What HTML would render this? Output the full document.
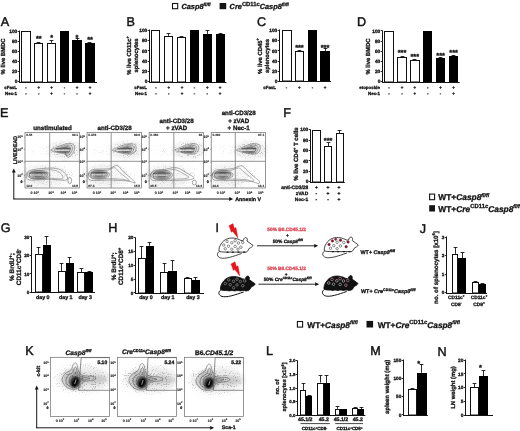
<!DOCTYPE html>
<html><head><meta charset="utf-8"><style>
html,body{margin:0;padding:0;background:#fff;width:520px;height:431px;overflow:hidden}
svg{display:block;font-family:'Liberation Sans', Arial, sans-serif;font-weight:bold;text-rendering:geometricPrecision}
text{stroke:#141414;stroke-width:.3px}
</style></head><body>
<svg width="520" height="431" viewBox="0 0 520 431">
<rect x="0" y="0" width="520" height="431" fill="#fff"/>
<rect x="172.50" y="3.50" width="5.20" height="5.20" fill="#fff" stroke="#141414" stroke-width="1.1"/>
<text x="181.4" y="8.9" font-size="7.4" font-style="italic" fill="#141414">Casp8<tspan font-size="4.6" dy="-3.1" font-style="italic">fl/fl</tspan></text>
<rect x="219.60" y="3.00" width="6.60" height="6.20" fill="#141414"/>
<text x="229.6" y="8.9" font-size="7.4" font-style="italic" fill="#141414">Cre<tspan font-size="5.8" dy="-3.3" font-style="normal">CD11c</tspan><tspan dy="3.3">Casp8</tspan><tspan font-size="4.6" dy="-3.1">fl/fl</tspan></text>
<text x="0.80" y="26.00" font-size="12.6" text-anchor="start" font-weight="normal" fill="#141414" style="stroke-width:0.45px">A</text>
<rect x="21.50" y="31.50" width="9.00" height="50.50" fill="#fff" stroke="#111" stroke-width="1.0"/>
<line x1="38.50" y1="43.12" x2="38.50" y2="42.50" stroke="#141414" stroke-width="0.9"/>
<line x1="36.60" y1="42.50" x2="40.40" y2="42.50" stroke="#141414" stroke-width="0.9"/>
<rect x="34.50" y="43.50" width="8.00" height="38.50" fill="#fff" stroke="#111" stroke-width="1.0"/>
<line x1="51.50" y1="42.87" x2="51.50" y2="40.50" stroke="#141414" stroke-width="0.9"/>
<line x1="49.60" y1="40.50" x2="53.40" y2="40.50" stroke="#141414" stroke-width="0.9"/>
<rect x="47.50" y="43.50" width="8.00" height="38.50" fill="#fff" stroke="#111" stroke-width="1.0"/>
<rect x="60.00" y="31.00" width="9.00" height="51.00" fill="#000"/>
<line x1="77.50" y1="40.29" x2="77.50" y2="38.50" stroke="#141414" stroke-width="0.9"/>
<line x1="75.60" y1="38.50" x2="79.40" y2="38.50" stroke="#141414" stroke-width="0.9"/>
<rect x="72.00" y="40.00" width="10.00" height="42.00" fill="#000"/>
<line x1="89.50" y1="43.22" x2="89.50" y2="42.50" stroke="#141414" stroke-width="0.9"/>
<line x1="87.60" y1="42.50" x2="91.40" y2="42.50" stroke="#141414" stroke-width="0.9"/>
<rect x="85.00" y="43.00" width="10.00" height="39.00" fill="#000"/>
<line x1="19.50" y1="30.50" x2="19.50" y2="83.00" stroke="#141414" stroke-width="1.0"/>
<line x1="19.00" y1="82.50" x2="97.00" y2="82.50" stroke="#141414" stroke-width="1.0"/>
<line x1="17.70" y1="81.50" x2="19.50" y2="81.50" stroke="#141414" stroke-width="0.9"/>
<text x="17.30" y="83.23" font-size="4.8" text-anchor="end" fill="#141414">0</text>
<line x1="17.70" y1="71.50" x2="19.50" y2="71.50" stroke="#141414" stroke-width="0.9"/>
<text x="17.30" y="73.13" font-size="4.8" text-anchor="end" fill="#141414">20</text>
<line x1="17.70" y1="61.50" x2="19.50" y2="61.50" stroke="#141414" stroke-width="0.9"/>
<text x="17.30" y="63.03" font-size="4.8" text-anchor="end" fill="#141414">40</text>
<line x1="17.70" y1="51.50" x2="19.50" y2="51.50" stroke="#141414" stroke-width="0.9"/>
<text x="17.30" y="52.93" font-size="4.8" text-anchor="end" fill="#141414">60</text>
<line x1="17.70" y1="41.50" x2="19.50" y2="41.50" stroke="#141414" stroke-width="0.9"/>
<text x="17.30" y="42.83" font-size="4.8" text-anchor="end" fill="#141414">80</text>
<line x1="17.70" y1="31.50" x2="19.50" y2="31.50" stroke="#141414" stroke-width="0.9"/>
<text x="17.30" y="32.73" font-size="4.8" text-anchor="end" fill="#141414">100</text>
<text x="5.40" y="56.50" font-size="5.9" text-anchor="middle" fill="#141414" transform="rotate(-90 5.40 56.50)">% live BMDC</text>
<text x="38.80" y="40.71" font-size="7.3" text-anchor="middle" fill="#141414">**</text>
<text x="51.60" y="40.31" font-size="7.3" text-anchor="middle" fill="#141414">*</text>
<text x="77.00" y="39.71" font-size="7.3" text-anchor="middle" fill="#141414">*</text>
<text x="90.00" y="42.41" font-size="7.3" text-anchor="middle" fill="#141414">**</text>
<text x="17.00" y="89.18" font-size="4.4" text-anchor="end" fill="#141414">sFasL</text>
<text x="26.00" y="89.18" font-size="4.4" text-anchor="middle" fill="#141414">-</text>
<text x="38.80" y="89.18" font-size="4.4" text-anchor="middle" fill="#141414">+</text>
<text x="51.60" y="89.18" font-size="4.4" text-anchor="middle" fill="#141414">+</text>
<text x="64.40" y="89.18" font-size="4.4" text-anchor="middle" fill="#141414">-</text>
<text x="77.00" y="89.18" font-size="4.4" text-anchor="middle" fill="#141414">+</text>
<text x="90.00" y="89.18" font-size="4.4" text-anchor="middle" fill="#141414">+</text>
<text x="17.00" y="95.38" font-size="4.4" text-anchor="end" fill="#141414">Nec-1</text>
<text x="26.00" y="95.38" font-size="4.4" text-anchor="middle" fill="#141414">-</text>
<text x="38.80" y="95.38" font-size="4.4" text-anchor="middle" fill="#141414">-</text>
<text x="51.60" y="95.38" font-size="4.4" text-anchor="middle" fill="#141414">+</text>
<text x="64.40" y="95.38" font-size="4.4" text-anchor="middle" fill="#141414">-</text>
<text x="77.00" y="95.38" font-size="4.4" text-anchor="middle" fill="#141414">-</text>
<text x="90.00" y="95.38" font-size="4.4" text-anchor="middle" fill="#141414">+</text>
<text x="126.40" y="25.50" font-size="12.6" text-anchor="start" font-weight="normal" fill="#141414" style="stroke-width:0.45px">B</text>
<rect x="151.50" y="30.50" width="8.00" height="51.50" fill="#fff" stroke="#111" stroke-width="1.0"/>
<line x1="168.50" y1="35.93" x2="168.50" y2="33.50" stroke="#141414" stroke-width="0.9"/>
<line x1="166.60" y1="33.50" x2="170.40" y2="33.50" stroke="#141414" stroke-width="0.9"/>
<rect x="164.50" y="36.50" width="8.00" height="45.50" fill="#fff" stroke="#111" stroke-width="1.0"/>
<line x1="181.50" y1="37.21" x2="181.50" y2="36.50" stroke="#141414" stroke-width="0.9"/>
<line x1="179.60" y1="36.50" x2="183.40" y2="36.50" stroke="#141414" stroke-width="0.9"/>
<rect x="177.50" y="37.50" width="8.00" height="44.50" fill="#fff" stroke="#111" stroke-width="1.0"/>
<rect x="190.00" y="30.00" width="9.00" height="52.00" fill="#000"/>
<line x1="207.50" y1="33.88" x2="207.50" y2="30.50" stroke="#141414" stroke-width="0.9"/>
<line x1="205.60" y1="30.50" x2="209.40" y2="30.50" stroke="#141414" stroke-width="0.9"/>
<rect x="203.00" y="34.00" width="9.00" height="48.00" fill="#000"/>
<line x1="220.50" y1="34.40" x2="220.50" y2="33.50" stroke="#141414" stroke-width="0.9"/>
<line x1="218.60" y1="33.50" x2="222.40" y2="33.50" stroke="#141414" stroke-width="0.9"/>
<rect x="216.00" y="34.00" width="9.00" height="48.00" fill="#000"/>
<line x1="149.50" y1="29.50" x2="149.50" y2="83.00" stroke="#141414" stroke-width="1.0"/>
<line x1="149.00" y1="82.50" x2="226.40" y2="82.50" stroke="#141414" stroke-width="1.0"/>
<line x1="147.70" y1="81.50" x2="149.50" y2="81.50" stroke="#141414" stroke-width="0.9"/>
<text x="147.30" y="83.23" font-size="4.8" text-anchor="end" fill="#141414">0</text>
<line x1="147.70" y1="71.50" x2="149.50" y2="71.50" stroke="#141414" stroke-width="0.9"/>
<text x="147.30" y="72.99" font-size="4.8" text-anchor="end" fill="#141414">20</text>
<line x1="147.70" y1="61.50" x2="149.50" y2="61.50" stroke="#141414" stroke-width="0.9"/>
<text x="147.30" y="62.75" font-size="4.8" text-anchor="end" fill="#141414">40</text>
<line x1="147.70" y1="50.50" x2="149.50" y2="50.50" stroke="#141414" stroke-width="0.9"/>
<text x="147.30" y="52.51" font-size="4.8" text-anchor="end" fill="#141414">60</text>
<line x1="147.70" y1="40.50" x2="149.50" y2="40.50" stroke="#141414" stroke-width="0.9"/>
<text x="147.30" y="42.27" font-size="4.8" text-anchor="end" fill="#141414">80</text>
<line x1="147.70" y1="30.50" x2="149.50" y2="30.50" stroke="#141414" stroke-width="0.9"/>
<text x="147.30" y="32.03" font-size="4.8" text-anchor="end" fill="#141414">100</text>
<text font-size="5.9" text-anchor="middle" fill="#141414" transform="rotate(-90 131.2 55.5)"><tspan x="131.2" y="55.5">% live CD11c<tspan font-size="4" dy="-2.4">+</tspan></tspan><tspan x="131.2" y="62.8">splenocytes</tspan></text>
<text x="147.00" y="88.88" font-size="4.4" text-anchor="end" fill="#141414">sFasL</text>
<text x="156.00" y="88.88" font-size="4.4" text-anchor="middle" fill="#141414">-</text>
<text x="168.80" y="88.88" font-size="4.4" text-anchor="middle" fill="#141414">+</text>
<text x="182.00" y="88.88" font-size="4.4" text-anchor="middle" fill="#141414">+</text>
<text x="194.40" y="88.88" font-size="4.4" text-anchor="middle" fill="#141414">-</text>
<text x="207.20" y="88.88" font-size="4.4" text-anchor="middle" fill="#141414">+</text>
<text x="220.10" y="88.88" font-size="4.4" text-anchor="middle" fill="#141414">+</text>
<text x="147.00" y="95.28" font-size="4.4" text-anchor="end" fill="#141414">Nec-1</text>
<text x="156.00" y="95.28" font-size="4.4" text-anchor="middle" fill="#141414">-</text>
<text x="168.80" y="95.28" font-size="4.4" text-anchor="middle" fill="#141414">-</text>
<text x="182.00" y="95.28" font-size="4.4" text-anchor="middle" fill="#141414">+</text>
<text x="194.40" y="95.28" font-size="4.4" text-anchor="middle" fill="#141414">-</text>
<text x="207.20" y="95.28" font-size="4.4" text-anchor="middle" fill="#141414">-</text>
<text x="220.10" y="95.28" font-size="4.4" text-anchor="middle" fill="#141414">+</text>
<text x="257.00" y="26.20" font-size="12.6" text-anchor="start" font-weight="normal" fill="#141414" style="stroke-width:0.45px">C</text>
<rect x="282.50" y="30.50" width="9.00" height="50.50" fill="#fff" stroke="#111" stroke-width="1.0"/>
<line x1="299.50" y1="51.37" x2="299.50" y2="50.50" stroke="#141414" stroke-width="0.9"/>
<line x1="297.60" y1="50.50" x2="301.40" y2="50.50" stroke="#141414" stroke-width="0.9"/>
<rect x="295.50" y="51.50" width="8.00" height="29.50" fill="#fff" stroke="#111" stroke-width="1.0"/>
<rect x="308.00" y="30.00" width="9.00" height="51.00" fill="#000"/>
<line x1="325.50" y1="51.37" x2="325.50" y2="48.50" stroke="#141414" stroke-width="0.9"/>
<line x1="323.60" y1="48.50" x2="327.40" y2="48.50" stroke="#141414" stroke-width="0.9"/>
<rect x="320.00" y="51.00" width="10.00" height="30.00" fill="#000"/>
<line x1="279.50" y1="29.50" x2="279.50" y2="82.00" stroke="#141414" stroke-width="1.0"/>
<line x1="279.00" y1="81.50" x2="331.00" y2="81.50" stroke="#141414" stroke-width="1.0"/>
<line x1="277.70" y1="81.50" x2="279.50" y2="81.50" stroke="#141414" stroke-width="0.9"/>
<text x="277.30" y="83.13" font-size="4.8" text-anchor="end" fill="#141414">0</text>
<line x1="277.70" y1="71.50" x2="279.50" y2="71.50" stroke="#141414" stroke-width="0.9"/>
<text x="277.30" y="72.95" font-size="4.8" text-anchor="end" fill="#141414">20</text>
<line x1="277.70" y1="61.50" x2="279.50" y2="61.50" stroke="#141414" stroke-width="0.9"/>
<text x="277.30" y="62.77" font-size="4.8" text-anchor="end" fill="#141414">40</text>
<line x1="277.70" y1="50.50" x2="279.50" y2="50.50" stroke="#141414" stroke-width="0.9"/>
<text x="277.30" y="52.59" font-size="4.8" text-anchor="end" fill="#141414">60</text>
<line x1="277.70" y1="40.50" x2="279.50" y2="40.50" stroke="#141414" stroke-width="0.9"/>
<text x="277.30" y="42.41" font-size="4.8" text-anchor="end" fill="#141414">80</text>
<line x1="277.70" y1="30.50" x2="279.50" y2="30.50" stroke="#141414" stroke-width="0.9"/>
<text x="277.30" y="32.23" font-size="4.8" text-anchor="end" fill="#141414">100</text>
<text font-size="5.9" text-anchor="middle" fill="#141414" transform="rotate(-90 261.8 56)"><tspan x="261.8" y="56">% live CD45<tspan font-size="4" dy="-2.4">+</tspan></tspan><tspan x="261.8" y="63.3">splenocytes</tspan></text>
<text x="299.40" y="50.41" font-size="7.3" text-anchor="middle" fill="#141414">***</text>
<text x="325.00" y="50.41" font-size="7.3" text-anchor="middle" fill="#141414">***</text>
<text x="276.00" y="88.78" font-size="4.4" text-anchor="end" fill="#141414">sFasL</text>
<text x="286.60" y="88.78" font-size="4.4" text-anchor="middle" fill="#141414">-</text>
<text x="299.40" y="88.78" font-size="4.4" text-anchor="middle" fill="#141414">+</text>
<text x="312.50" y="88.78" font-size="4.4" text-anchor="middle" fill="#141414">-</text>
<text x="325.00" y="88.78" font-size="4.4" text-anchor="middle" fill="#141414">+</text>
<text x="357.00" y="26.20" font-size="12.6" text-anchor="start" font-weight="normal" fill="#141414" style="stroke-width:0.45px">D</text>
<rect x="384.50" y="31.50" width="9.00" height="50.50" fill="#fff" stroke="#111" stroke-width="1.0"/>
<line x1="402.50" y1="56.76" x2="402.50" y2="56.50" stroke="#141414" stroke-width="0.9"/>
<line x1="400.60" y1="56.50" x2="404.40" y2="56.50" stroke="#141414" stroke-width="0.9"/>
<rect x="397.50" y="57.50" width="9.00" height="24.50" fill="#fff" stroke="#111" stroke-width="1.0"/>
<line x1="414.50" y1="60.05" x2="414.50" y2="59.50" stroke="#141414" stroke-width="0.9"/>
<line x1="412.60" y1="59.50" x2="416.40" y2="59.50" stroke="#141414" stroke-width="0.9"/>
<rect x="410.50" y="60.50" width="9.00" height="21.50" fill="#fff" stroke="#111" stroke-width="1.0"/>
<rect x="423.00" y="31.00" width="9.00" height="51.00" fill="#000"/>
<line x1="440.50" y1="58.02" x2="440.50" y2="57.50" stroke="#141414" stroke-width="0.9"/>
<line x1="438.60" y1="57.50" x2="442.40" y2="57.50" stroke="#141414" stroke-width="0.9"/>
<rect x="436.00" y="58.00" width="9.00" height="24.00" fill="#000"/>
<line x1="453.50" y1="55.74" x2="453.50" y2="55.50" stroke="#141414" stroke-width="0.9"/>
<line x1="451.60" y1="55.50" x2="455.40" y2="55.50" stroke="#141414" stroke-width="0.9"/>
<rect x="449.00" y="56.00" width="9.00" height="26.00" fill="#000"/>
<line x1="382.50" y1="30.50" x2="382.50" y2="83.00" stroke="#141414" stroke-width="1.0"/>
<line x1="382.00" y1="82.50" x2="459.70" y2="82.50" stroke="#141414" stroke-width="1.0"/>
<line x1="380.70" y1="81.50" x2="382.50" y2="81.50" stroke="#141414" stroke-width="0.9"/>
<text x="380.30" y="83.33" font-size="4.8" text-anchor="end" fill="#141414">0</text>
<line x1="380.70" y1="71.50" x2="382.50" y2="71.50" stroke="#141414" stroke-width="0.9"/>
<text x="380.30" y="73.19" font-size="4.8" text-anchor="end" fill="#141414">20</text>
<line x1="380.70" y1="61.50" x2="382.50" y2="61.50" stroke="#141414" stroke-width="0.9"/>
<text x="380.30" y="63.05" font-size="4.8" text-anchor="end" fill="#141414">40</text>
<line x1="380.70" y1="51.50" x2="382.50" y2="51.50" stroke="#141414" stroke-width="0.9"/>
<text x="380.30" y="52.91" font-size="4.8" text-anchor="end" fill="#141414">60</text>
<line x1="380.70" y1="41.50" x2="382.50" y2="41.50" stroke="#141414" stroke-width="0.9"/>
<text x="380.30" y="42.77" font-size="4.8" text-anchor="end" fill="#141414">80</text>
<line x1="380.70" y1="30.50" x2="382.50" y2="30.50" stroke="#141414" stroke-width="0.9"/>
<text x="380.30" y="32.63" font-size="4.8" text-anchor="end" fill="#141414">100</text>
<text x="369.60" y="56.50" font-size="5.9" text-anchor="middle" fill="#141414" transform="rotate(-90 369.60 56.50)">% live BMDC</text>
<text x="402.00" y="55.21" font-size="7.3" text-anchor="middle" fill="#141414">***</text>
<text x="414.80" y="59.01" font-size="7.3" text-anchor="middle" fill="#141414">***</text>
<text x="440.60" y="57.51" font-size="7.3" text-anchor="middle" fill="#141414">***</text>
<text x="453.60" y="55.11" font-size="7.3" text-anchor="middle" fill="#141414">***</text>
<text x="380.00" y="89.08" font-size="4.4" text-anchor="end" fill="#141414">etoposide</text>
<text x="389.00" y="89.08" font-size="4.4" text-anchor="middle" fill="#141414">-</text>
<text x="402.00" y="89.08" font-size="4.4" text-anchor="middle" fill="#141414">+</text>
<text x="414.80" y="89.08" font-size="4.4" text-anchor="middle" fill="#141414">+</text>
<text x="427.80" y="89.08" font-size="4.4" text-anchor="middle" fill="#141414">-</text>
<text x="440.60" y="89.08" font-size="4.4" text-anchor="middle" fill="#141414">+</text>
<text x="453.60" y="89.08" font-size="4.4" text-anchor="middle" fill="#141414">+</text>
<text x="380.00" y="95.28" font-size="4.4" text-anchor="end" fill="#141414">Nec-1</text>
<text x="389.00" y="95.28" font-size="4.4" text-anchor="middle" fill="#141414">-</text>
<text x="402.00" y="95.28" font-size="4.4" text-anchor="middle" fill="#141414">-</text>
<text x="414.80" y="95.28" font-size="4.4" text-anchor="middle" fill="#141414">+</text>
<text x="427.80" y="95.28" font-size="4.4" text-anchor="middle" fill="#141414">-</text>
<text x="440.60" y="95.28" font-size="4.4" text-anchor="middle" fill="#141414">-</text>
<text x="453.60" y="95.28" font-size="4.4" text-anchor="middle" fill="#141414">+</text>
<defs><filter id="bl1" x="-50%" y="-50%" width="200%" height="200%"><feGaussianBlur stdDeviation="1.2"/></filter><filter id="bl2" x="-50%" y="-50%" width="200%" height="200%"><feGaussianBlur stdDeviation="2.2"/></filter><filter id="bl05" x="-50%" y="-50%" width="200%" height="200%"><feGaussianBlur stdDeviation="0.5"/></filter><filter id="sp" x="0" y="0" width="520" height="431" filterUnits="userSpaceOnUse"><feGaussianBlur in="SourceGraphic" stdDeviation="2.5" result="b"/><feTurbulence type="fractalNoise" baseFrequency="0.9" numOctaves="1" seed="5" result="n"/><feColorMatrix in="n" type="matrix" values="0 0 0 0 0.4  0 0 0 0 0.4  0 0 0 0 0.4  10 0 0 0 -5.9" result="d"/><feComposite in="d" in2="b" operator="in"/></filter></defs>
<text x="0.10" y="116.90" font-size="12.6" text-anchor="start" font-weight="normal" fill="#141414" style="stroke-width:0.45px">E</text>
<text x="52.50" y="129.80" font-size="6.2" text-anchor="middle" fill="#141414">unstimulated</text>
<line x1="34.00" y1="150.2" x2="51.70" y2="150.2" stroke="#000" stroke-width="1.4" opacity="0.10" filter="url(#bl05)"/>
<g filter="url(#sp)"><line x1="31.00" y1="150.2" x2="52.70" y2="150.2" stroke="#000" stroke-width="4" opacity="0.6"/></g>
<ellipse cx="64.70" cy="150.00" rx="17" ry="9" fill="#000" opacity="0.06" filter="url(#bl2)"/>
<g filter="url(#sp)"><ellipse cx="65.70" cy="150.00" rx="15" ry="8.5" fill="#000" opacity="0.75"/></g>
<path d="M50.70,150.20 C50.70,149.57 53.03,148.78 54.70,148.00 C56.37,147.22 58.87,146.17 60.70,145.50 C62.53,144.83 64.20,144.35 65.70,144.00 C67.20,143.65 68.45,143.37 69.70,143.40 C70.95,143.43 72.37,143.60 73.20,144.20 C74.03,144.80 74.53,145.95 74.70,147.00 C74.87,148.05 74.53,149.42 74.20,150.50 C73.87,151.58 73.37,152.55 72.70,153.50 C72.03,154.45 71.00,155.57 70.20,156.20 C69.40,156.83 68.57,157.33 67.90,157.30 C67.23,157.27 66.65,156.55 66.20,156.00 C65.75,155.45 66.28,154.50 65.20,154.00 C64.12,153.50 61.45,153.37 59.70,153.00 C57.95,152.63 56.20,152.27 54.70,151.80 C53.20,151.33 50.70,150.83 50.70,150.20Z" fill="#000" fill-opacity="0.04" stroke="#3a3a3a" stroke-width="0.4"/>
<path d="M53.78,150.16 C53.78,149.66 55.60,149.05 56.90,148.44 C58.20,147.83 60.15,147.01 61.58,146.49 C63.01,145.97 64.31,145.59 65.48,145.32 C66.65,145.05 67.63,144.83 68.60,144.85 C69.58,144.88 70.68,145.01 71.33,145.48 C71.98,145.94 72.37,146.84 72.50,147.66 C72.63,148.48 72.37,149.54 72.11,150.39 C71.85,151.23 71.46,151.99 70.94,152.73 C70.42,153.47 69.61,154.34 68.99,154.84 C68.37,155.33 67.72,155.72 67.20,155.69 C66.68,155.67 66.22,155.11 65.87,154.68 C65.52,154.25 65.94,153.51 65.09,153.12 C64.25,152.73 62.17,152.63 60.80,152.34 C59.44,152.05 58.07,151.77 56.90,151.40 C55.73,151.04 53.78,150.65 53.78,150.16Z" fill="#000" fill-opacity="0.08" stroke="#3a3a3a" stroke-width="0.35"/>
<path d="M56.86,150.11 C56.86,149.76 58.17,149.32 59.10,148.88 C60.03,148.44 61.43,147.85 62.46,147.48 C63.49,147.11 64.42,146.84 65.26,146.64 C66.10,146.44 66.80,146.29 67.50,146.30 C68.20,146.32 68.99,146.42 69.46,146.75 C69.93,147.09 70.21,147.73 70.30,148.32 C70.39,148.91 70.21,149.67 70.02,150.28 C69.83,150.89 69.55,151.43 69.18,151.96 C68.81,152.49 68.23,153.12 67.78,153.47 C67.33,153.83 66.87,154.11 66.49,154.09 C66.12,154.07 65.79,153.67 65.54,153.36 C65.29,153.05 65.59,152.52 64.98,152.24 C64.37,151.96 62.88,151.89 61.90,151.68 C60.92,151.47 59.94,151.27 59.10,151.01 C58.26,150.75 56.86,150.47 56.86,150.11Z" fill="#000" fill-opacity="0.12" stroke="#3a3a3a" stroke-width="0.35"/>
<path d="M59.66,150.07 C59.66,149.84 60.50,149.56 61.10,149.28 C61.70,149.00 62.60,148.62 63.26,148.38 C63.92,148.14 64.52,147.97 65.06,147.84 C65.60,147.71 66.05,147.61 66.50,147.62 C66.95,147.64 67.46,147.70 67.76,147.91 C68.06,148.13 68.24,148.54 68.30,148.92 C68.36,149.30 68.24,149.79 68.12,150.18 C68.00,150.57 67.82,150.92 67.58,151.26 C67.34,151.60 66.97,152.00 66.68,152.23 C66.39,152.46 66.09,152.64 65.85,152.63 C65.61,152.62 65.40,152.36 65.24,152.16 C65.08,151.96 65.27,151.62 64.88,151.44 C64.49,151.26 63.53,151.21 62.90,151.08 C62.27,150.95 61.64,150.82 61.10,150.65 C60.56,150.48 59.66,150.30 59.66,150.07Z" fill="#000" fill-opacity="0.15" stroke="#3a3a3a" stroke-width="0.35"/>
<path d="M55.70,148.90 Q63.70,147.60 70.70,148.60" fill="none" stroke="#222" stroke-width="1.1" opacity="0.55"/>
<path d="M56.70,151.80 Q63.70,152.60 69.70,151.80" fill="none" stroke="#222" stroke-width="1.0" opacity="0.45"/>
<line x1="54.70" y1="150.3" x2="68.70" y2="150.3" stroke="#fff" stroke-width="0.9" opacity="0.8"/>
<ellipse cx="44.50" cy="175.80" rx="23.50" ry="10.60" fill="#000" opacity="0.06" filter="url(#bl2)"/>
<g filter="url(#sp)"><ellipse cx="48.50" cy="174.80" rx="25.50" ry="9.60" fill="#000" opacity="0.6"/></g>
<path d="M26.50,174.00 C26.83,172.50 27.92,171.37 30.00,170.50 C32.08,169.63 35.83,169.18 39.00,168.80 C42.17,168.42 46.33,168.28 49.00,168.20 C51.67,168.12 53.00,168.00 55.00,168.30 C57.00,168.60 59.17,168.97 61.00,170.00 C62.83,171.03 64.92,173.08 66.00,174.50 C67.08,175.92 67.58,177.55 67.50,178.50 C67.42,179.45 67.08,179.98 65.50,180.20 C63.92,180.42 60.75,179.95 58.00,179.80 C55.25,179.65 52.50,179.27 49.00,179.30 C45.50,179.33 40.50,179.97 37.00,180.00 C33.50,180.03 29.75,180.50 28.00,179.50 C26.25,178.50 26.17,175.50 26.50,174.00Z" fill="#fff" fill-opacity="0.5" stroke="#3a3a3a" stroke-width="0.42"/>
<path d="M29.38,174.20 C29.65,173.07 30.54,172.22 32.25,171.57 C33.96,170.92 37.03,170.59 39.63,170.30 C42.23,170.01 45.64,169.91 47.83,169.85 C50.02,169.79 51.11,169.70 52.75,169.93 C54.39,170.15 56.17,170.42 57.67,171.20 C59.17,171.97 60.88,173.51 61.77,174.57 C62.66,175.64 63.07,176.86 63.00,177.57 C62.93,178.29 62.66,178.69 61.36,178.85 C60.06,179.01 57.47,178.66 55.21,178.55 C52.95,178.44 50.70,178.15 47.83,178.18 C44.96,178.20 40.86,178.67 37.99,178.70 C35.12,178.72 32.05,179.07 30.61,178.32 C29.18,177.57 29.11,175.32 29.38,174.20Z" fill="none" stroke="#3a3a3a" stroke-width="0.38"/>
<ellipse cx="38.50" cy="174.80" rx="11.50" ry="4.60" fill="#000" fill-opacity="0.1" stroke="#3a3a3a" stroke-width="0.35"/>
<ellipse cx="38.50" cy="174.80" rx="9.20" ry="3.68" fill="#000" fill-opacity="0.12" stroke="#3a3a3a" stroke-width="0.35"/>
<ellipse cx="38.50" cy="174.80" rx="6.90" ry="2.76" fill="#000" fill-opacity="0.14" stroke="#3a3a3a" stroke-width="0.35"/>
<ellipse cx="38.50" cy="174.80" rx="4.60" ry="1.84" fill="#000" fill-opacity="0.16" stroke="#3a3a3a" stroke-width="0.35"/>
<path d="M29.30,173.20 Q38.50,172.00 47.70,173.00" fill="none" stroke="#222" stroke-width="1.1" opacity="0.5"/>
<line x1="29.88" y1="175.00" x2="45.40" y2="175.00" stroke="#fff" stroke-width="0.9" opacity="0.7"/>
<ellipse cx="69.70" cy="180.60" rx="1.8" ry="3.2" fill="none" stroke="#333" stroke-width="0.45"/>
<rect x="25.00" y="132.60" width="54.30" height="55.40" fill="none" stroke="#6a6a6a" stroke-width="0.7"/>
<line x1="49.70" y1="132.60" x2="49.70" y2="188.00" stroke="#777" stroke-width="0.8"/>
<line x1="25.00" y1="161.30" x2="79.30" y2="161.30" stroke="#777" stroke-width="0.8"/>
<text x="26.20" y="136.30" font-size="3.2" text-anchor="start" fill="#333" style="stroke-width:0.1px">0.45</text>
<text x="78.10" y="136.30" font-size="3.2" text-anchor="end" fill="#333" style="stroke-width:0.1px">92.1</text>
<text x="26.20" y="186.70" font-size="3.2" text-anchor="start" fill="#333" style="stroke-width:0.1px">12.9</text>
<text x="78.10" y="186.70" font-size="3.2" text-anchor="end" fill="#333" style="stroke-width:0.1px">10.5</text>
<text x="22.80" y="138.40" font-size="3.6" text-anchor="end" fill="#141414" style="stroke-width:0.12px">10<tspan font-size="2.6" dy="-1.3">5</tspan></text>
<line x1="23.80" y1="137.20" x2="25.00" y2="137.20" stroke="#555" stroke-width="0.5"/>
<text x="22.80" y="150.50" font-size="3.6" text-anchor="end" fill="#141414" style="stroke-width:0.12px">10<tspan font-size="2.6" dy="-1.3">4</tspan></text>
<line x1="23.80" y1="149.30" x2="25.00" y2="149.30" stroke="#555" stroke-width="0.5"/>
<text x="22.80" y="163.20" font-size="3.6" text-anchor="end" fill="#141414" style="stroke-width:0.12px">10<tspan font-size="2.6" dy="-1.3">3</tspan></text>
<line x1="23.80" y1="162.00" x2="25.00" y2="162.00" stroke="#555" stroke-width="0.5"/>
<text x="22.80" y="176.60" font-size="3.6" text-anchor="end" fill="#141414" style="stroke-width:0.12px">10<tspan font-size="2.6" dy="-1.3">2</tspan></text>
<line x1="23.80" y1="175.40" x2="25.00" y2="175.40" stroke="#555" stroke-width="0.5"/>
<text x="22.60" y="183.20" font-size="3.6" text-anchor="end" fill="#141414">0</text>
<line x1="23.80" y1="181.00" x2="25.00" y2="181.00" stroke="#555" stroke-width="0.5"/>
<text x="34.80" y="194.0" font-size="3.6" text-anchor="middle" fill="#141414" style="stroke-width:0.12px">0 10<tspan font-size="2.6" dy="-1.3">2</tspan></text>
<text x="51.00" y="194.0" font-size="3.6" text-anchor="middle" fill="#141414" style="stroke-width:0.12px">10<tspan font-size="2.6" dy="-1.3">3</tspan></text>
<text x="63.30" y="194.0" font-size="3.6" text-anchor="middle" fill="#141414" style="stroke-width:0.12px">10<tspan font-size="2.6" dy="-1.3">4</tspan></text>
<text x="74.60" y="194.0" font-size="3.6" text-anchor="middle" fill="#141414" style="stroke-width:0.12px">10<tspan font-size="2.6" dy="-1.3">5</tspan></text>
<text x="114.57" y="129.80" font-size="6.2" text-anchor="middle" fill="#141414">anti-CD3/28</text>
<line x1="96.07" y1="150.2" x2="113.17" y2="150.2" stroke="#000" stroke-width="1.4" opacity="0.10" filter="url(#bl05)"/>
<g filter="url(#sp)"><line x1="93.07" y1="150.2" x2="114.17" y2="150.2" stroke="#000" stroke-width="4" opacity="0.6"/></g>
<ellipse cx="126.17" cy="150.00" rx="17" ry="9" fill="#000" opacity="0.06" filter="url(#bl2)"/>
<g filter="url(#sp)"><ellipse cx="127.17" cy="150.00" rx="15" ry="8.5" fill="#000" opacity="0.75"/></g>
<path d="M112.17,150.20 C112.00,149.53 114.50,148.78 116.17,148.00 C117.84,147.22 120.34,146.17 122.17,145.50 C124.00,144.83 125.67,144.32 127.17,144.00 C128.67,143.68 129.92,143.52 131.17,143.60 C132.42,143.68 133.84,143.93 134.67,144.50 C135.50,145.07 136.00,146.00 136.17,147.00 C136.34,148.00 136.09,149.50 135.67,150.50 C135.25,151.50 134.75,152.37 133.67,153.00 C132.59,153.63 130.92,154.20 129.17,154.30 C127.42,154.40 125.17,153.98 123.17,153.60 C121.17,153.22 119.00,152.57 117.17,152.00 C115.34,151.43 112.34,150.87 112.17,150.20Z" fill="#000" fill-opacity="0.04" stroke="#3a3a3a" stroke-width="0.4"/>
<path d="M115.25,150.16 C115.12,149.64 117.07,149.05 118.37,148.44 C119.67,147.83 121.62,147.01 123.05,146.49 C124.48,145.97 125.78,145.57 126.95,145.32 C128.12,145.07 129.10,144.94 130.07,145.01 C131.05,145.07 132.15,145.27 132.80,145.71 C133.45,146.15 133.84,146.88 133.97,147.66 C134.10,148.44 133.91,149.61 133.58,150.39 C133.25,151.17 132.87,151.85 132.02,152.34 C131.18,152.83 129.88,153.28 128.51,153.35 C127.15,153.43 125.39,153.11 123.83,152.81 C122.27,152.51 120.58,152.00 119.15,151.56 C117.72,151.12 115.38,150.68 115.25,150.16Z" fill="#000" fill-opacity="0.08" stroke="#3a3a3a" stroke-width="0.35"/>
<path d="M118.33,150.11 C118.24,149.74 119.64,149.32 120.57,148.88 C121.50,148.44 122.90,147.85 123.93,147.48 C124.96,147.11 125.89,146.82 126.73,146.64 C127.57,146.46 128.27,146.37 128.97,146.42 C129.67,146.46 130.46,146.60 130.93,146.92 C131.40,147.24 131.68,147.76 131.77,148.32 C131.86,148.88 131.72,149.72 131.49,150.28 C131.26,150.84 130.98,151.33 130.37,151.68 C129.76,152.03 128.83,152.35 127.85,152.41 C126.87,152.46 125.61,152.23 124.49,152.02 C123.37,151.80 122.16,151.44 121.13,151.12 C120.10,150.80 118.42,150.49 118.33,150.11Z" fill="#000" fill-opacity="0.12" stroke="#3a3a3a" stroke-width="0.35"/>
<path d="M121.13,150.07 C121.07,149.83 121.97,149.56 122.57,149.28 C123.17,149.00 124.07,148.62 124.73,148.38 C125.39,148.14 125.99,147.95 126.53,147.84 C127.07,147.73 127.52,147.67 127.97,147.70 C128.42,147.73 128.93,147.82 129.23,148.02 C129.53,148.22 129.71,148.56 129.77,148.92 C129.83,149.28 129.74,149.82 129.59,150.18 C129.44,150.54 129.26,150.85 128.87,151.08 C128.48,151.31 127.88,151.51 127.25,151.55 C126.62,151.58 125.81,151.43 125.09,151.30 C124.37,151.16 123.59,150.92 122.93,150.72 C122.27,150.52 121.19,150.31 121.13,150.07Z" fill="#000" fill-opacity="0.15" stroke="#3a3a3a" stroke-width="0.35"/>
<path d="M117.17,148.90 Q125.17,147.60 132.17,148.60" fill="none" stroke="#222" stroke-width="1.1" opacity="0.55"/>
<path d="M118.17,151.80 Q125.17,152.60 131.17,151.80" fill="none" stroke="#222" stroke-width="1.0" opacity="0.45"/>
<line x1="116.17" y1="150.3" x2="130.17" y2="150.3" stroke="#fff" stroke-width="0.9" opacity="0.8"/>
<ellipse cx="105.07" cy="175.60" rx="22.50" ry="10.60" fill="#000" opacity="0.06" filter="url(#bl2)"/>
<g filter="url(#sp)"><ellipse cx="109.07" cy="174.60" rx="24.50" ry="9.60" fill="#000" opacity="0.6"/></g>
<path d="M88.57,173.50 C89.07,171.88 89.82,170.55 92.07,169.80 C94.32,169.05 99.24,169.17 102.07,169.00 C104.90,168.83 107.07,169.27 109.07,168.80 C111.07,168.33 112.57,166.70 114.07,166.20 C115.57,165.70 116.57,164.92 118.07,165.80 C119.57,166.68 121.07,169.55 123.07,171.50 C125.07,173.45 128.02,175.58 130.07,177.50 C132.12,179.42 135.54,182.38 135.37,183.00 C135.20,183.62 131.45,181.62 129.07,181.20 C126.69,180.78 124.07,180.70 121.07,180.50 C118.07,180.30 115.07,180.00 111.07,180.00 C107.07,180.00 100.74,180.58 97.07,180.50 C93.40,180.42 90.49,180.67 89.07,179.50 C87.65,178.33 88.07,175.12 88.57,173.50Z" fill="#fff" fill-opacity="0.5" stroke="#3a3a3a" stroke-width="0.42"/>
<path d="M91.18,173.78 C91.59,172.56 92.20,171.56 94.05,171.00 C95.89,170.44 99.93,170.53 102.25,170.40 C104.57,170.28 106.35,170.60 107.99,170.25 C109.63,169.90 110.86,168.67 112.09,168.30 C113.32,167.92 114.14,167.34 115.37,168.00 C116.60,168.66 117.83,170.81 119.47,172.28 C121.11,173.74 123.53,175.34 125.21,176.78 C126.89,178.21 129.69,180.44 129.56,180.90 C129.42,181.36 126.34,179.86 124.39,179.55 C122.44,179.24 120.29,179.18 117.83,179.03 C115.37,178.88 112.91,178.65 109.63,178.65 C106.35,178.65 101.16,179.09 98.15,179.03 C95.14,178.96 92.75,179.15 91.59,178.28 C90.43,177.40 90.77,174.99 91.18,173.78Z" fill="none" stroke="#3a3a3a" stroke-width="0.38"/>
<ellipse cx="99.07" cy="174.60" rx="10.50" ry="4.60" fill="#000" fill-opacity="0.1" stroke="#3a3a3a" stroke-width="0.35"/>
<ellipse cx="99.07" cy="174.60" rx="8.40" ry="3.68" fill="#000" fill-opacity="0.12" stroke="#3a3a3a" stroke-width="0.35"/>
<ellipse cx="99.07" cy="174.60" rx="6.30" ry="2.76" fill="#000" fill-opacity="0.14" stroke="#3a3a3a" stroke-width="0.35"/>
<ellipse cx="99.07" cy="174.60" rx="4.20" ry="1.84" fill="#000" fill-opacity="0.16" stroke="#3a3a3a" stroke-width="0.35"/>
<path d="M90.67,173.00 Q99.07,171.80 107.47,172.80" fill="none" stroke="#222" stroke-width="1.1" opacity="0.5"/>
<line x1="91.19" y1="174.80" x2="105.37" y2="174.80" stroke="#fff" stroke-width="0.9" opacity="0.7"/>
<rect x="87.07" y="132.60" width="54.30" height="55.40" fill="none" stroke="#6a6a6a" stroke-width="0.7"/>
<line x1="111.17" y1="132.60" x2="111.17" y2="188.00" stroke="#777" stroke-width="0.8"/>
<line x1="87.07" y1="161.30" x2="141.37" y2="161.30" stroke="#777" stroke-width="0.8"/>
<text x="88.27" y="136.30" font-size="3.2" text-anchor="start" fill="#333" style="stroke-width:0.1px">0.378</text>
<text x="140.17" y="136.30" font-size="3.2" text-anchor="end" fill="#333" style="stroke-width:0.1px">89.9</text>
<text x="88.27" y="186.70" font-size="3.2" text-anchor="start" fill="#333" style="stroke-width:0.1px">67.3</text>
<text x="140.17" y="186.70" font-size="3.2" text-anchor="end" fill="#333" style="stroke-width:0.1px">15.5</text>
<text x="84.87" y="138.40" font-size="3.6" text-anchor="end" fill="#141414" style="stroke-width:0.12px">10<tspan font-size="2.6" dy="-1.3">5</tspan></text>
<line x1="85.87" y1="137.20" x2="87.07" y2="137.20" stroke="#555" stroke-width="0.5"/>
<text x="84.87" y="150.50" font-size="3.6" text-anchor="end" fill="#141414" style="stroke-width:0.12px">10<tspan font-size="2.6" dy="-1.3">4</tspan></text>
<line x1="85.87" y1="149.30" x2="87.07" y2="149.30" stroke="#555" stroke-width="0.5"/>
<text x="84.87" y="163.20" font-size="3.6" text-anchor="end" fill="#141414" style="stroke-width:0.12px">10<tspan font-size="2.6" dy="-1.3">3</tspan></text>
<line x1="85.87" y1="162.00" x2="87.07" y2="162.00" stroke="#555" stroke-width="0.5"/>
<text x="84.87" y="176.60" font-size="3.6" text-anchor="end" fill="#141414" style="stroke-width:0.12px">10<tspan font-size="2.6" dy="-1.3">2</tspan></text>
<line x1="85.87" y1="175.40" x2="87.07" y2="175.40" stroke="#555" stroke-width="0.5"/>
<text x="84.67" y="183.20" font-size="3.6" text-anchor="end" fill="#141414">0</text>
<line x1="85.87" y1="181.00" x2="87.07" y2="181.00" stroke="#555" stroke-width="0.5"/>
<text x="96.87" y="194.0" font-size="3.6" text-anchor="middle" fill="#141414" style="stroke-width:0.12px">0 10<tspan font-size="2.6" dy="-1.3">2</tspan></text>
<text x="113.07" y="194.0" font-size="3.6" text-anchor="middle" fill="#141414" style="stroke-width:0.12px">10<tspan font-size="2.6" dy="-1.3">3</tspan></text>
<text x="125.37" y="194.0" font-size="3.6" text-anchor="middle" fill="#141414" style="stroke-width:0.12px">10<tspan font-size="2.6" dy="-1.3">4</tspan></text>
<text x="136.67" y="194.0" font-size="3.6" text-anchor="middle" fill="#141414" style="stroke-width:0.12px">10<tspan font-size="2.6" dy="-1.3">5</tspan></text>
<text x="176.64" y="122.50" font-size="6.2" text-anchor="middle" fill="#141414">anti-CD3/28</text>
<text x="176.64" y="129.80" font-size="6.2" text-anchor="middle" fill="#141414">+ zVAD</text>
<line x1="158.14" y1="150.2" x2="175.84" y2="150.2" stroke="#000" stroke-width="1.4" opacity="0.10" filter="url(#bl05)"/>
<g filter="url(#sp)"><line x1="155.14" y1="150.2" x2="176.84" y2="150.2" stroke="#000" stroke-width="4" opacity="0.6"/></g>
<ellipse cx="188.84" cy="150.00" rx="17" ry="9" fill="#000" opacity="0.06" filter="url(#bl2)"/>
<g filter="url(#sp)"><ellipse cx="189.84" cy="150.00" rx="15" ry="8.5" fill="#000" opacity="0.75"/></g>
<path d="M174.84,150.20 C174.67,149.53 177.17,148.78 178.84,148.00 C180.51,147.22 183.01,146.17 184.84,145.50 C186.67,144.83 188.34,144.32 189.84,144.00 C191.34,143.68 192.59,143.52 193.84,143.60 C195.09,143.68 196.51,143.93 197.34,144.50 C198.17,145.07 198.67,146.00 198.84,147.00 C199.01,148.00 198.76,149.50 198.34,150.50 C197.92,151.50 197.42,152.37 196.34,153.00 C195.26,153.63 193.59,154.20 191.84,154.30 C190.09,154.40 187.84,153.98 185.84,153.60 C183.84,153.22 181.67,152.57 179.84,152.00 C178.01,151.43 175.01,150.87 174.84,150.20Z" fill="#000" fill-opacity="0.04" stroke="#3a3a3a" stroke-width="0.4"/>
<path d="M177.92,150.16 C177.79,149.64 179.74,149.05 181.04,148.44 C182.34,147.83 184.29,147.01 185.72,146.49 C187.15,145.97 188.45,145.57 189.62,145.32 C190.79,145.07 191.76,144.94 192.74,145.01 C193.71,145.07 194.82,145.27 195.47,145.71 C196.12,146.15 196.51,146.88 196.64,147.66 C196.77,148.44 196.57,149.61 196.25,150.39 C195.92,151.17 195.53,151.85 194.69,152.34 C193.84,152.83 192.54,153.28 191.18,153.35 C189.81,153.43 188.06,153.11 186.50,152.81 C184.94,152.51 183.25,152.00 181.82,151.56 C180.39,151.12 178.05,150.68 177.92,150.16Z" fill="#000" fill-opacity="0.08" stroke="#3a3a3a" stroke-width="0.35"/>
<path d="M181.00,150.11 C180.91,149.74 182.31,149.32 183.24,148.88 C184.17,148.44 185.57,147.85 186.60,147.48 C187.63,147.11 188.56,146.82 189.40,146.64 C190.24,146.46 190.94,146.37 191.64,146.42 C192.34,146.46 193.13,146.60 193.60,146.92 C194.07,147.24 194.35,147.76 194.44,148.32 C194.53,148.88 194.39,149.72 194.16,150.28 C193.93,150.84 193.65,151.33 193.04,151.68 C192.43,152.03 191.50,152.35 190.52,152.41 C189.54,152.46 188.28,152.23 187.16,152.02 C186.04,151.80 184.83,151.44 183.80,151.12 C182.77,150.80 181.09,150.49 181.00,150.11Z" fill="#000" fill-opacity="0.12" stroke="#3a3a3a" stroke-width="0.35"/>
<path d="M183.80,150.07 C183.74,149.83 184.64,149.56 185.24,149.28 C185.84,149.00 186.74,148.62 187.40,148.38 C188.06,148.14 188.66,147.95 189.20,147.84 C189.74,147.73 190.19,147.67 190.64,147.70 C191.09,147.73 191.60,147.82 191.90,148.02 C192.20,148.22 192.38,148.56 192.44,148.92 C192.50,149.28 192.41,149.82 192.26,150.18 C192.11,150.54 191.93,150.85 191.54,151.08 C191.15,151.31 190.55,151.51 189.92,151.55 C189.29,151.58 188.48,151.43 187.76,151.30 C187.04,151.16 186.26,150.92 185.60,150.72 C184.94,150.52 183.86,150.31 183.80,150.07Z" fill="#000" fill-opacity="0.15" stroke="#3a3a3a" stroke-width="0.35"/>
<path d="M179.84,148.90 Q187.84,147.60 194.84,148.60" fill="none" stroke="#222" stroke-width="1.1" opacity="0.55"/>
<path d="M180.84,151.80 Q187.84,152.60 193.84,151.80" fill="none" stroke="#222" stroke-width="1.0" opacity="0.45"/>
<line x1="178.84" y1="150.3" x2="192.84" y2="150.3" stroke="#fff" stroke-width="0.9" opacity="0.8"/>
<ellipse cx="167.64" cy="176.00" rx="23.00" ry="11.00" fill="#000" opacity="0.06" filter="url(#bl2)"/>
<g filter="url(#sp)"><ellipse cx="171.64" cy="175.00" rx="25.00" ry="10.00" fill="#000" opacity="0.6"/></g>
<path d="M150.64,174.00 C151.14,172.58 151.89,171.25 154.14,170.50 C156.39,169.75 160.97,169.95 164.14,169.50 C167.31,169.05 170.64,167.97 173.14,167.80 C175.64,167.63 177.14,167.80 179.14,168.50 C181.14,169.20 183.14,170.83 185.14,172.00 C187.14,173.17 189.64,174.50 191.14,175.50 C192.64,176.50 194.47,177.28 194.14,178.00 C193.81,178.72 191.64,179.42 189.14,179.80 C186.64,180.18 182.81,180.18 179.14,180.30 C175.47,180.42 171.31,180.47 167.14,180.50 C162.97,180.53 156.81,180.75 154.14,180.50 C151.47,180.25 151.72,180.08 151.14,179.00 C150.56,177.92 150.14,175.42 150.64,174.00Z" fill="#fff" fill-opacity="0.5" stroke="#3a3a3a" stroke-width="0.42"/>
<path d="M153.34,174.25 C153.75,173.19 154.36,172.19 156.21,171.62 C158.05,171.06 161.81,171.21 164.41,170.88 C167.01,170.54 169.74,169.73 171.79,169.60 C173.84,169.48 175.07,169.60 176.71,170.12 C178.35,170.65 179.99,171.88 181.63,172.75 C183.27,173.62 185.32,174.62 186.55,175.38 C187.78,176.12 189.28,176.71 189.01,177.25 C188.74,177.79 186.96,178.31 184.91,178.60 C182.86,178.89 179.72,178.89 176.71,178.98 C173.70,179.06 170.29,179.10 166.87,179.12 C163.45,179.15 158.40,179.31 156.21,179.12 C154.02,178.94 154.23,178.81 153.75,178.00 C153.27,177.19 152.93,175.31 153.34,174.25Z" fill="none" stroke="#3a3a3a" stroke-width="0.38"/>
<ellipse cx="161.64" cy="175.00" rx="11.00" ry="5.00" fill="#000" fill-opacity="0.1" stroke="#3a3a3a" stroke-width="0.35"/>
<ellipse cx="161.64" cy="175.00" rx="8.80" ry="4.00" fill="#000" fill-opacity="0.12" stroke="#3a3a3a" stroke-width="0.35"/>
<ellipse cx="161.64" cy="175.00" rx="6.60" ry="3.00" fill="#000" fill-opacity="0.14" stroke="#3a3a3a" stroke-width="0.35"/>
<ellipse cx="161.64" cy="175.00" rx="4.40" ry="2.00" fill="#000" fill-opacity="0.16" stroke="#3a3a3a" stroke-width="0.35"/>
<path d="M152.84,173.40 Q161.64,172.20 170.44,173.20" fill="none" stroke="#222" stroke-width="1.1" opacity="0.5"/>
<line x1="153.39" y1="175.20" x2="168.24" y2="175.20" stroke="#fff" stroke-width="0.9" opacity="0.7"/>
<ellipse cx="194.34" cy="182.60" rx="2.0" ry="2.4" fill="none" stroke="#333" stroke-width="0.45"/>
<rect x="149.14" y="132.60" width="54.30" height="55.40" fill="none" stroke="#6a6a6a" stroke-width="0.7"/>
<line x1="173.84" y1="132.60" x2="173.84" y2="188.00" stroke="#777" stroke-width="0.8"/>
<line x1="149.14" y1="161.30" x2="203.44" y2="161.30" stroke="#777" stroke-width="0.8"/>
<text x="150.34" y="136.30" font-size="3.2" text-anchor="start" fill="#333" style="stroke-width:0.1px">0.460</text>
<text x="202.24" y="136.30" font-size="3.2" text-anchor="end" fill="#333" style="stroke-width:0.1px">86</text>
<text x="150.34" y="186.70" font-size="3.2" text-anchor="start" fill="#333" style="stroke-width:0.1px">35.5</text>
<text x="202.24" y="186.70" font-size="3.2" text-anchor="end" fill="#333" style="stroke-width:0.1px">13.6</text>
<text x="146.94" y="138.40" font-size="3.6" text-anchor="end" fill="#141414" style="stroke-width:0.12px">10<tspan font-size="2.6" dy="-1.3">5</tspan></text>
<line x1="147.94" y1="137.20" x2="149.14" y2="137.20" stroke="#555" stroke-width="0.5"/>
<text x="146.94" y="150.50" font-size="3.6" text-anchor="end" fill="#141414" style="stroke-width:0.12px">10<tspan font-size="2.6" dy="-1.3">4</tspan></text>
<line x1="147.94" y1="149.30" x2="149.14" y2="149.30" stroke="#555" stroke-width="0.5"/>
<text x="146.94" y="163.20" font-size="3.6" text-anchor="end" fill="#141414" style="stroke-width:0.12px">10<tspan font-size="2.6" dy="-1.3">3</tspan></text>
<line x1="147.94" y1="162.00" x2="149.14" y2="162.00" stroke="#555" stroke-width="0.5"/>
<text x="146.94" y="176.60" font-size="3.6" text-anchor="end" fill="#141414" style="stroke-width:0.12px">10<tspan font-size="2.6" dy="-1.3">2</tspan></text>
<line x1="147.94" y1="175.40" x2="149.14" y2="175.40" stroke="#555" stroke-width="0.5"/>
<text x="146.74" y="183.20" font-size="3.6" text-anchor="end" fill="#141414">0</text>
<line x1="147.94" y1="181.00" x2="149.14" y2="181.00" stroke="#555" stroke-width="0.5"/>
<text x="158.94" y="194.0" font-size="3.6" text-anchor="middle" fill="#141414" style="stroke-width:0.12px">0 10<tspan font-size="2.6" dy="-1.3">2</tspan></text>
<text x="175.14" y="194.0" font-size="3.6" text-anchor="middle" fill="#141414" style="stroke-width:0.12px">10<tspan font-size="2.6" dy="-1.3">3</tspan></text>
<text x="187.44" y="194.0" font-size="3.6" text-anchor="middle" fill="#141414" style="stroke-width:0.12px">10<tspan font-size="2.6" dy="-1.3">4</tspan></text>
<text x="198.74" y="194.0" font-size="3.6" text-anchor="middle" fill="#141414" style="stroke-width:0.12px">10<tspan font-size="2.6" dy="-1.3">5</tspan></text>
<text x="238.71" y="115.20" font-size="6.2" text-anchor="middle" fill="#141414">anti-CD3/28</text>
<text x="238.71" y="122.50" font-size="6.2" text-anchor="middle" fill="#141414">+ zVAD</text>
<text x="238.71" y="129.80" font-size="6.2" text-anchor="middle" fill="#141414">+ Nec-1</text>
<line x1="220.21" y1="150.2" x2="237.31" y2="150.2" stroke="#000" stroke-width="1.4" opacity="0.10" filter="url(#bl05)"/>
<g filter="url(#sp)"><line x1="217.21" y1="150.2" x2="238.31" y2="150.2" stroke="#000" stroke-width="4" opacity="0.6"/></g>
<ellipse cx="250.31" cy="150.00" rx="17" ry="9" fill="#000" opacity="0.06" filter="url(#bl2)"/>
<g filter="url(#sp)"><ellipse cx="251.31" cy="150.00" rx="15" ry="8.5" fill="#000" opacity="0.75"/></g>
<path d="M236.31,150.20 C236.14,149.53 238.64,148.78 240.31,148.00 C241.98,147.22 244.48,146.17 246.31,145.50 C248.14,144.83 249.81,144.32 251.31,144.00 C252.81,143.68 254.06,143.52 255.31,143.60 C256.56,143.68 257.98,143.93 258.81,144.50 C259.64,145.07 260.14,146.00 260.31,147.00 C260.48,148.00 260.23,149.50 259.81,150.50 C259.39,151.50 258.89,152.37 257.81,153.00 C256.73,153.63 255.06,154.20 253.31,154.30 C251.56,154.40 249.31,153.98 247.31,153.60 C245.31,153.22 243.14,152.57 241.31,152.00 C239.48,151.43 236.48,150.87 236.31,150.20Z" fill="#000" fill-opacity="0.04" stroke="#3a3a3a" stroke-width="0.4"/>
<path d="M239.39,150.16 C239.26,149.64 241.21,149.05 242.51,148.44 C243.81,147.83 245.76,147.01 247.19,146.49 C248.62,145.97 249.92,145.57 251.09,145.32 C252.26,145.07 253.24,144.94 254.21,145.01 C255.19,145.07 256.29,145.27 256.94,145.71 C257.59,146.15 257.98,146.88 258.11,147.66 C258.24,148.44 258.05,149.61 257.72,150.39 C257.40,151.17 257.01,151.85 256.16,152.34 C255.32,152.83 254.02,153.28 252.65,153.35 C251.28,153.43 249.53,153.11 247.97,152.81 C246.41,152.51 244.72,152.00 243.29,151.56 C241.86,151.12 239.52,150.68 239.39,150.16Z" fill="#000" fill-opacity="0.08" stroke="#3a3a3a" stroke-width="0.35"/>
<path d="M242.47,150.11 C242.38,149.74 243.78,149.32 244.71,148.88 C245.64,148.44 247.04,147.85 248.07,147.48 C249.10,147.11 250.03,146.82 250.87,146.64 C251.71,146.46 252.41,146.37 253.11,146.42 C253.81,146.46 254.60,146.60 255.07,146.92 C255.54,147.24 255.82,147.76 255.91,148.32 C256.00,148.88 255.86,149.72 255.63,150.28 C255.40,150.84 255.12,151.33 254.51,151.68 C253.90,152.03 252.97,152.35 251.99,152.41 C251.01,152.46 249.75,152.23 248.63,152.02 C247.51,151.80 246.30,151.44 245.27,151.12 C244.24,150.80 242.56,150.49 242.47,150.11Z" fill="#000" fill-opacity="0.12" stroke="#3a3a3a" stroke-width="0.35"/>
<path d="M245.27,150.07 C245.21,149.83 246.11,149.56 246.71,149.28 C247.31,149.00 248.21,148.62 248.87,148.38 C249.53,148.14 250.13,147.95 250.67,147.84 C251.21,147.73 251.66,147.67 252.11,147.70 C252.56,147.73 253.07,147.82 253.37,148.02 C253.67,148.22 253.85,148.56 253.91,148.92 C253.97,149.28 253.88,149.82 253.73,150.18 C253.58,150.54 253.40,150.85 253.01,151.08 C252.62,151.31 252.02,151.51 251.39,151.55 C250.76,151.58 249.95,151.43 249.23,151.30 C248.51,151.16 247.73,150.92 247.07,150.72 C246.41,150.52 245.33,150.31 245.27,150.07Z" fill="#000" fill-opacity="0.15" stroke="#3a3a3a" stroke-width="0.35"/>
<path d="M241.31,148.90 Q249.31,147.60 256.31,148.60" fill="none" stroke="#222" stroke-width="1.1" opacity="0.55"/>
<path d="M242.31,151.80 Q249.31,152.60 255.31,151.80" fill="none" stroke="#222" stroke-width="1.0" opacity="0.45"/>
<line x1="240.31" y1="150.3" x2="254.31" y2="150.3" stroke="#fff" stroke-width="0.9" opacity="0.8"/>
<ellipse cx="228.71" cy="175.80" rx="22.50" ry="10.60" fill="#000" opacity="0.06" filter="url(#bl2)"/>
<g filter="url(#sp)"><ellipse cx="232.71" cy="174.80" rx="24.50" ry="9.60" fill="#000" opacity="0.6"/></g>
<path d="M212.71,173.50 C213.21,171.92 213.96,170.72 216.21,170.00 C218.46,169.28 223.38,169.45 226.21,169.20 C229.04,168.95 231.21,168.95 233.21,168.50 C235.21,168.05 236.71,166.92 238.21,166.50 C239.71,166.08 240.71,165.33 242.21,166.00 C243.71,166.67 245.38,168.83 247.21,170.50 C249.04,172.17 251.29,174.33 253.21,176.00 C255.13,177.67 257.79,179.25 258.71,180.50 C259.63,181.75 259.96,183.33 258.71,183.50 C257.46,183.67 254.46,181.98 251.21,181.50 C247.96,181.02 243.88,180.77 239.21,180.60 C234.54,180.43 227.54,180.68 223.21,180.50 C218.88,180.32 214.96,180.67 213.21,179.50 C211.46,178.33 212.21,175.08 212.71,173.50Z" fill="#fff" fill-opacity="0.5" stroke="#3a3a3a" stroke-width="0.42"/>
<path d="M215.23,173.82 C215.64,172.64 216.26,171.74 218.10,171.20 C219.95,170.66 223.98,170.79 226.30,170.60 C228.62,170.41 230.40,170.41 232.04,170.07 C233.68,169.74 234.91,168.89 236.14,168.57 C237.37,168.26 238.19,167.70 239.42,168.20 C240.65,168.70 242.02,170.32 243.52,171.57 C245.02,172.82 246.87,174.45 248.44,175.70 C250.01,176.95 252.20,178.14 252.95,179.07 C253.70,180.01 253.98,181.20 252.95,181.32 C251.93,181.45 249.47,180.19 246.80,179.82 C244.13,179.46 240.79,179.28 236.96,179.15 C233.13,179.03 227.39,179.21 223.84,179.07 C220.29,178.94 217.08,179.20 215.64,178.32 C214.21,177.45 214.82,175.01 215.23,173.82Z" fill="none" stroke="#3a3a3a" stroke-width="0.38"/>
<ellipse cx="222.71" cy="174.80" rx="10.50" ry="4.60" fill="#000" fill-opacity="0.1" stroke="#3a3a3a" stroke-width="0.35"/>
<ellipse cx="222.71" cy="174.80" rx="8.40" ry="3.68" fill="#000" fill-opacity="0.12" stroke="#3a3a3a" stroke-width="0.35"/>
<ellipse cx="222.71" cy="174.80" rx="6.30" ry="2.76" fill="#000" fill-opacity="0.14" stroke="#3a3a3a" stroke-width="0.35"/>
<ellipse cx="222.71" cy="174.80" rx="4.20" ry="1.84" fill="#000" fill-opacity="0.16" stroke="#3a3a3a" stroke-width="0.35"/>
<path d="M214.31,173.20 Q222.71,172.00 231.11,173.00" fill="none" stroke="#222" stroke-width="1.1" opacity="0.5"/>
<line x1="214.84" y1="175.00" x2="229.01" y2="175.00" stroke="#fff" stroke-width="0.9" opacity="0.7"/>
<rect x="211.21" y="132.60" width="54.30" height="55.40" fill="none" stroke="#6a6a6a" stroke-width="0.7"/>
<line x1="235.31" y1="132.60" x2="235.31" y2="188.00" stroke="#777" stroke-width="0.8"/>
<line x1="211.21" y1="161.30" x2="265.51" y2="161.30" stroke="#777" stroke-width="0.8"/>
<text x="212.41" y="136.30" font-size="3.2" text-anchor="start" fill="#333" style="stroke-width:0.1px">0.460</text>
<text x="264.31" y="136.30" font-size="3.2" text-anchor="end" fill="#333" style="stroke-width:0.1px">87.1</text>
<text x="212.41" y="186.70" font-size="3.2" text-anchor="start" fill="#333" style="stroke-width:0.1px">33.8</text>
<text x="264.31" y="186.70" font-size="3.2" text-anchor="end" fill="#333" style="stroke-width:0.1px">18.1</text>
<text x="209.01" y="138.40" font-size="3.6" text-anchor="end" fill="#141414" style="stroke-width:0.12px">10<tspan font-size="2.6" dy="-1.3">5</tspan></text>
<line x1="210.01" y1="137.20" x2="211.21" y2="137.20" stroke="#555" stroke-width="0.5"/>
<text x="209.01" y="150.50" font-size="3.6" text-anchor="end" fill="#141414" style="stroke-width:0.12px">10<tspan font-size="2.6" dy="-1.3">4</tspan></text>
<line x1="210.01" y1="149.30" x2="211.21" y2="149.30" stroke="#555" stroke-width="0.5"/>
<text x="209.01" y="163.20" font-size="3.6" text-anchor="end" fill="#141414" style="stroke-width:0.12px">10<tspan font-size="2.6" dy="-1.3">3</tspan></text>
<line x1="210.01" y1="162.00" x2="211.21" y2="162.00" stroke="#555" stroke-width="0.5"/>
<text x="209.01" y="176.60" font-size="3.6" text-anchor="end" fill="#141414" style="stroke-width:0.12px">10<tspan font-size="2.6" dy="-1.3">2</tspan></text>
<line x1="210.01" y1="175.40" x2="211.21" y2="175.40" stroke="#555" stroke-width="0.5"/>
<text x="208.81" y="183.20" font-size="3.6" text-anchor="end" fill="#141414">0</text>
<line x1="210.01" y1="181.00" x2="211.21" y2="181.00" stroke="#555" stroke-width="0.5"/>
<text x="221.01" y="194.0" font-size="3.6" text-anchor="middle" fill="#141414" style="stroke-width:0.12px">0 10<tspan font-size="2.6" dy="-1.3">2</tspan></text>
<text x="237.21" y="194.0" font-size="3.6" text-anchor="middle" fill="#141414" style="stroke-width:0.12px">10<tspan font-size="2.6" dy="-1.3">3</tspan></text>
<text x="249.51" y="194.0" font-size="3.6" text-anchor="middle" fill="#141414" style="stroke-width:0.12px">10<tspan font-size="2.6" dy="-1.3">4</tspan></text>
<text x="260.81" y="194.0" font-size="3.6" text-anchor="middle" fill="#141414" style="stroke-width:0.12px">10<tspan font-size="2.6" dy="-1.3">5</tspan></text>
<line x1="13.80" y1="170.50" x2="13.80" y2="199.20" stroke="#141414" stroke-width="1.0"/>
<path d="M13.8,168.5 L11.9,172.5 L15.7,172.5Z" fill="#141414"/>
<line x1="13.30" y1="199.00" x2="230.50" y2="199.00" stroke="#141414" stroke-width="1.0"/>
<path d="M233.2,199 L229.2,197.1 L229.2,200.9Z" fill="#141414"/>
<text x="16.80" y="150.00" font-size="5.3" text-anchor="middle" fill="#141414" transform="rotate(-90 16.80 150.00)">LIVE/DEAD</text>
<text x="235.20" y="200.90" font-size="5.3" text-anchor="start" fill="#141414">Annexin V</text>
<text x="283.20" y="116.80" font-size="12.6" text-anchor="start" font-weight="normal" fill="#141414" style="stroke-width:0.45px">F</text>
<rect x="312.50" y="130.50" width="8.00" height="51.50" fill="#fff" stroke="#111" stroke-width="1.0"/>
<line x1="328.50" y1="146.28" x2="328.50" y2="142.50" stroke="#141414" stroke-width="0.9"/>
<line x1="326.60" y1="142.50" x2="330.40" y2="142.50" stroke="#141414" stroke-width="0.9"/>
<rect x="324.50" y="146.50" width="7.00" height="35.50" fill="#fff" stroke="#111" stroke-width="1.0"/>
<line x1="339.50" y1="133.17" x2="339.50" y2="130.50" stroke="#141414" stroke-width="0.9"/>
<line x1="337.60" y1="130.50" x2="341.40" y2="130.50" stroke="#141414" stroke-width="0.9"/>
<rect x="336.50" y="133.50" width="7.00" height="48.50" fill="#fff" stroke="#111" stroke-width="1.0"/>
<line x1="310.50" y1="129.50" x2="310.50" y2="183.00" stroke="#141414" stroke-width="1.0"/>
<line x1="310.00" y1="182.50" x2="344.70" y2="182.50" stroke="#141414" stroke-width="1.0"/>
<line x1="308.70" y1="181.50" x2="310.50" y2="181.50" stroke="#141414" stroke-width="0.9"/>
<text x="308.30" y="183.23" font-size="4.8" text-anchor="end" fill="#141414">0</text>
<line x1="308.70" y1="171.50" x2="310.50" y2="171.50" stroke="#141414" stroke-width="0.9"/>
<text x="308.30" y="172.87" font-size="4.8" text-anchor="end" fill="#141414">20</text>
<line x1="308.70" y1="160.50" x2="310.50" y2="160.50" stroke="#141414" stroke-width="0.9"/>
<text x="308.30" y="162.51" font-size="4.8" text-anchor="end" fill="#141414">40</text>
<line x1="308.70" y1="150.50" x2="310.50" y2="150.50" stroke="#141414" stroke-width="0.9"/>
<text x="308.30" y="152.15" font-size="4.8" text-anchor="end" fill="#141414">60</text>
<line x1="308.70" y1="140.50" x2="310.50" y2="140.50" stroke="#141414" stroke-width="0.9"/>
<text x="308.30" y="141.79" font-size="4.8" text-anchor="end" fill="#141414">80</text>
<line x1="308.70" y1="129.50" x2="310.50" y2="129.50" stroke="#141414" stroke-width="0.9"/>
<text x="308.30" y="131.43" font-size="4.8" text-anchor="end" fill="#141414">100</text>
<text x="298.0" y="154" font-size="6.0" text-anchor="middle" fill="#141414" transform="rotate(-90 298.0 154)">% live CD4<tspan font-size="4" dy="-2.4">+</tspan><tspan dy="2.4"> T cells</tspan></text>
<text x="328.10" y="142.61" font-size="7.3" text-anchor="middle" fill="#141414">***</text>
<text x="308.20" y="188.86" font-size="4.9" text-anchor="end" fill="#141414">anti-CD3/28</text>
<text x="316.40" y="188.86" font-size="4.9" text-anchor="middle" fill="#141414">+</text>
<text x="328.00" y="188.86" font-size="4.9" text-anchor="middle" fill="#141414">+</text>
<text x="338.90" y="188.86" font-size="4.9" text-anchor="middle" fill="#141414">+</text>
<text x="308.20" y="195.06" font-size="4.9" text-anchor="end" fill="#141414">zVAD</text>
<text x="316.40" y="195.06" font-size="4.9" text-anchor="middle" fill="#141414">-</text>
<text x="328.00" y="195.06" font-size="4.9" text-anchor="middle" fill="#141414">+</text>
<text x="338.90" y="195.06" font-size="4.9" text-anchor="middle" fill="#141414">+</text>
<text x="308.20" y="200.96" font-size="4.9" text-anchor="end" fill="#141414">Nec-1</text>
<text x="316.40" y="200.96" font-size="4.9" text-anchor="middle" fill="#141414">-</text>
<text x="328.00" y="200.96" font-size="4.9" text-anchor="middle" fill="#141414">-</text>
<text x="338.90" y="200.96" font-size="4.9" text-anchor="middle" fill="#141414">+</text>
<rect x="429.60" y="194.10" width="5.00" height="5.60" fill="#fff" stroke="#141414" stroke-width="1.1"/>
<text x="438.3" y="200.2" font-size="8.4" fill="#141414">WT+<tspan font-style="italic">Casp8</tspan><tspan font-size="5.2" dy="-3.3" font-style="italic">fl/fl</tspan></text>
<rect x="429.20" y="205.20" width="5.80" height="6.30" fill="#141414"/>
<text x="438.3" y="211.6" font-size="8.4" fill="#141414">WT+<tspan font-style="italic">Cre</tspan><tspan font-size="5.9" dy="-3.8">CD11c</tspan><tspan dy="3.8" font-style="italic">Casp8</tspan><tspan font-size="5.2" dy="-3.6" font-style="italic">fl/fl</tspan></text>
<text x="0.80" y="231.90" font-size="12.6" text-anchor="start" font-weight="normal" fill="#141414" style="stroke-width:0.45px">G</text>
<line x1="38.50" y1="254.14" x2="38.50" y2="247.50" stroke="#141414" stroke-width="0.9"/>
<line x1="36.60" y1="247.50" x2="40.40" y2="247.50" stroke="#141414" stroke-width="0.9"/>
<rect x="35.50" y="254.50" width="7.00" height="37.50" fill="#fff" stroke="#111" stroke-width="1.0"/>
<line x1="46.50" y1="244.68" x2="46.50" y2="236.50" stroke="#141414" stroke-width="0.9"/>
<line x1="44.60" y1="236.50" x2="48.40" y2="236.50" stroke="#141414" stroke-width="0.9"/>
<rect x="43.00" y="245.00" width="8.00" height="47.00" fill="#000"/>
<line x1="61.50" y1="271.19" x2="61.50" y2="263.50" stroke="#141414" stroke-width="0.9"/>
<line x1="59.60" y1="263.50" x2="63.40" y2="263.50" stroke="#141414" stroke-width="0.9"/>
<rect x="58.50" y="271.50" width="7.00" height="20.50" fill="#fff" stroke="#111" stroke-width="1.0"/>
<line x1="69.50" y1="263.22" x2="69.50" y2="257.50" stroke="#141414" stroke-width="0.9"/>
<line x1="67.60" y1="257.50" x2="71.40" y2="257.50" stroke="#141414" stroke-width="0.9"/>
<rect x="66.00" y="263.00" width="8.00" height="29.00" fill="#000"/>
<line x1="81.50" y1="272.30" x2="81.50" y2="268.50" stroke="#141414" stroke-width="0.9"/>
<line x1="79.60" y1="268.50" x2="83.40" y2="268.50" stroke="#141414" stroke-width="0.9"/>
<rect x="77.50" y="272.50" width="7.00" height="19.50" fill="#fff" stroke="#111" stroke-width="1.0"/>
<line x1="89.50" y1="272.30" x2="89.50" y2="271.50" stroke="#141414" stroke-width="0.9"/>
<line x1="87.60" y1="271.50" x2="91.40" y2="271.50" stroke="#141414" stroke-width="0.9"/>
<rect x="85.00" y="272.00" width="8.00" height="20.00" fill="#000"/>
<line x1="31.50" y1="236.50" x2="31.50" y2="293.00" stroke="#141414" stroke-width="1.0"/>
<line x1="31.00" y1="292.50" x2="95.00" y2="292.50" stroke="#141414" stroke-width="1.0"/>
<line x1="29.70" y1="292.50" x2="31.50" y2="292.50" stroke="#141414" stroke-width="0.9"/>
<text x="29.30" y="294.16" font-size="4.6" text-anchor="end" fill="#141414">0</text>
<line x1="29.70" y1="273.50" x2="31.50" y2="273.50" stroke="#141414" stroke-width="0.9"/>
<text x="29.30" y="275.62" font-size="4.6" text-anchor="end" fill="#141414">10</text>
<line x1="29.70" y1="255.50" x2="31.50" y2="255.50" stroke="#141414" stroke-width="0.9"/>
<text x="29.30" y="257.09" font-size="4.6" text-anchor="end" fill="#141414">20</text>
<line x1="29.70" y1="236.50" x2="31.50" y2="236.50" stroke="#141414" stroke-width="0.9"/>
<text x="29.30" y="238.56" font-size="4.6" text-anchor="end" fill="#141414">30</text>
<text x="42.80" y="299.10" font-size="5.3" text-anchor="middle" fill="#141414">day 0</text>
<text x="65.80" y="299.10" font-size="5.3" text-anchor="middle" fill="#141414">day 1</text>
<text x="85.20" y="299.10" font-size="5.3" text-anchor="middle" fill="#141414">day 3</text>
<text font-size="6.4" text-anchor="middle" fill="#141414" transform="rotate(-90 14.4 267)"><tspan x="14.4" y="267">% BrdU<tspan font-size="4.3" dy="-2.4">+</tspan><tspan dy="2.4">;</tspan></tspan><tspan x="14.4" y="273.9">CD11c<tspan font-size="4.3" dy="-2.4">+</tspan><tspan dy="2.4">CD8</tspan><tspan font-size="4.3" dy="-2.4">-</tspan></tspan></text>
<text x="108.30" y="231.90" font-size="12.6" text-anchor="start" font-weight="normal" fill="#141414" style="stroke-width:0.45px">H</text>
<line x1="141.50" y1="258.27" x2="141.50" y2="246.50" stroke="#141414" stroke-width="0.9"/>
<line x1="139.60" y1="246.50" x2="143.40" y2="246.50" stroke="#141414" stroke-width="0.9"/>
<rect x="138.50" y="258.50" width="7.00" height="34.50" fill="#fff" stroke="#111" stroke-width="1.0"/>
<line x1="149.50" y1="245.81" x2="149.50" y2="242.50" stroke="#141414" stroke-width="0.9"/>
<line x1="147.60" y1="242.50" x2="151.40" y2="242.50" stroke="#141414" stroke-width="0.9"/>
<rect x="146.00" y="246.00" width="8.00" height="47.00" fill="#000"/>
<line x1="164.50" y1="271.85" x2="164.50" y2="263.50" stroke="#141414" stroke-width="0.9"/>
<line x1="162.60" y1="263.50" x2="166.40" y2="263.50" stroke="#141414" stroke-width="0.9"/>
<rect x="160.50" y="272.50" width="7.00" height="20.50" fill="#fff" stroke="#111" stroke-width="1.0"/>
<line x1="172.50" y1="270.74" x2="172.50" y2="260.50" stroke="#141414" stroke-width="0.9"/>
<line x1="170.60" y1="260.50" x2="174.40" y2="260.50" stroke="#141414" stroke-width="0.9"/>
<rect x="168.00" y="271.00" width="9.00" height="22.00" fill="#000"/>
<line x1="187.50" y1="277.94" x2="187.50" y2="277.50" stroke="#141414" stroke-width="0.9"/>
<line x1="185.60" y1="277.50" x2="189.40" y2="277.50" stroke="#141414" stroke-width="0.9"/>
<rect x="184.50" y="278.50" width="7.00" height="14.50" fill="#fff" stroke="#111" stroke-width="1.0"/>
<line x1="195.50" y1="280.16" x2="195.50" y2="277.50" stroke="#141414" stroke-width="0.9"/>
<line x1="193.60" y1="277.50" x2="197.40" y2="277.50" stroke="#141414" stroke-width="0.9"/>
<rect x="192.00" y="280.00" width="8.00" height="13.00" fill="#000"/>
<line x1="135.50" y1="237.50" x2="135.50" y2="294.00" stroke="#141414" stroke-width="1.0"/>
<line x1="135.00" y1="293.50" x2="204.00" y2="293.50" stroke="#141414" stroke-width="1.0"/>
<line x1="133.70" y1="292.50" x2="135.50" y2="292.50" stroke="#141414" stroke-width="0.9"/>
<text x="133.30" y="294.56" font-size="4.6" text-anchor="end" fill="#141414">0</text>
<line x1="133.70" y1="279.50" x2="135.50" y2="279.50" stroke="#141414" stroke-width="0.9"/>
<text x="133.30" y="280.71" font-size="4.6" text-anchor="end" fill="#141414">5</text>
<line x1="133.70" y1="265.50" x2="135.50" y2="265.50" stroke="#141414" stroke-width="0.9"/>
<text x="133.30" y="266.86" font-size="4.6" text-anchor="end" fill="#141414">10</text>
<line x1="133.70" y1="251.50" x2="135.50" y2="251.50" stroke="#141414" stroke-width="0.9"/>
<text x="133.30" y="253.01" font-size="4.6" text-anchor="end" fill="#141414">15</text>
<line x1="133.70" y1="237.50" x2="135.50" y2="237.50" stroke="#141414" stroke-width="0.9"/>
<text x="133.30" y="239.16" font-size="4.6" text-anchor="end" fill="#141414">20</text>
<text x="145.90" y="299.10" font-size="5.3" text-anchor="middle" fill="#141414">day 0</text>
<text x="167.80" y="299.10" font-size="5.3" text-anchor="middle" fill="#141414">day 1</text>
<text x="192.90" y="299.10" font-size="5.3" text-anchor="middle" fill="#141414">day 3</text>
<text font-size="6.4" text-anchor="middle" fill="#141414" transform="rotate(-90 116.1 266.3)"><tspan x="116.1" y="266.3">% BrdU<tspan font-size="4.3" dy="-2.4">+</tspan><tspan dy="2.4">;</tspan></tspan><tspan x="116.1" y="273.4">CD11c<tspan font-size="4.3" dy="-2.4">+</tspan><tspan dy="2.4">CD8</tspan><tspan font-size="4.3" dy="-2.4">+</tspan></tspan></text>
<text x="419.70" y="233.00" font-size="12.6" text-anchor="start" font-weight="normal" fill="#141414" style="stroke-width:0.45px">J</text>
<line x1="455.50" y1="253.85" x2="455.50" y2="247.50" stroke="#141414" stroke-width="0.9"/>
<line x1="453.60" y1="247.50" x2="457.40" y2="247.50" stroke="#141414" stroke-width="0.9"/>
<rect x="452.50" y="254.50" width="5.00" height="38.50" fill="#fff" stroke="#111" stroke-width="1.0"/>
<line x1="462.50" y1="258.47" x2="462.50" y2="252.50" stroke="#141414" stroke-width="0.9"/>
<line x1="460.60" y1="252.50" x2="464.40" y2="252.50" stroke="#141414" stroke-width="0.9"/>
<rect x="458.00" y="258.00" width="8.00" height="35.00" fill="#000"/>
<line x1="475.50" y1="282.34" x2="475.50" y2="281.50" stroke="#141414" stroke-width="0.9"/>
<line x1="473.60" y1="281.50" x2="477.40" y2="281.50" stroke="#141414" stroke-width="0.9"/>
<rect x="472.50" y="282.50" width="6.00" height="10.50" fill="#fff" stroke="#111" stroke-width="1.0"/>
<line x1="482.50" y1="283.82" x2="482.50" y2="283.50" stroke="#141414" stroke-width="0.9"/>
<line x1="480.60" y1="283.50" x2="484.40" y2="283.50" stroke="#141414" stroke-width="0.9"/>
<rect x="479.00" y="284.00" width="7.00" height="9.00" fill="#000"/>
<line x1="446.50" y1="236.50" x2="446.50" y2="294.00" stroke="#141414" stroke-width="1.0"/>
<line x1="446.00" y1="293.50" x2="487.00" y2="293.50" stroke="#141414" stroke-width="1.0"/>
<line x1="444.70" y1="292.50" x2="446.50" y2="292.50" stroke="#141414" stroke-width="0.9"/>
<text x="444.30" y="294.36" font-size="4.6" text-anchor="end" fill="#141414">0</text>
<line x1="444.70" y1="274.50" x2="446.50" y2="274.50" stroke="#141414" stroke-width="0.9"/>
<text x="444.30" y="275.86" font-size="4.6" text-anchor="end" fill="#141414">1</text>
<line x1="444.70" y1="255.50" x2="446.50" y2="255.50" stroke="#141414" stroke-width="0.9"/>
<text x="444.30" y="257.36" font-size="4.6" text-anchor="end" fill="#141414">2</text>
<line x1="444.70" y1="237.50" x2="446.50" y2="237.50" stroke="#141414" stroke-width="0.9"/>
<text x="444.30" y="238.86" font-size="4.6" text-anchor="end" fill="#141414">3</text>
<text x="456.4" y="299.2" font-size="4.8" text-anchor="middle" fill="#141414">CD11c<tspan font-size="3.3" dy="-1.8">+</tspan></text>
<text x="479.1" y="299.2" font-size="4.8" text-anchor="middle" fill="#141414">CD11c<tspan font-size="3.3" dy="-1.8">+</tspan></text>
<text x="456.4" y="305.9" font-size="4.8" text-anchor="middle" fill="#141414">CD8<tspan font-size="3.3" dy="-1.8">-</tspan></text>
<text x="479.1" y="305.9" font-size="4.8" text-anchor="middle" fill="#141414">CD8<tspan font-size="3.3" dy="-1.8">+</tspan></text>
<text x="437.8" y="267.5" font-size="6.2" text-anchor="middle" fill="#141414" transform="rotate(-90 437.8 267.5)">no. of splenocytes [x10<tspan font-size="4" dy="-2.4">6</tspan><tspan dy="2.4">]</tspan></text>
<text x="215.50" y="232.10" font-size="12.4" text-anchor="start" font-weight="normal" fill="#141414" style="stroke-width:0.45px">I</text>
<path d="M219.47,251.30 C216.34,253.00 216.81,256.80 220.43,257.90 C224.70,259.30 233.25,256.50 241.32,253.60" fill="none" stroke="#222" stroke-width="0.85" stroke-linecap="round"/>
<path d="M219.00,251.00 C218.53,247.00 221.85,240.50 227.55,238.70 C232.30,237.20 237.53,238.50 240.85,240.40 C241.80,240.80 242.75,240.70 243.51,240.20 C243.70,237.60 246.36,236.60 247.22,238.80 C247.41,239.60 247.31,240.40 246.93,241.00 C248.93,242.40 251.30,244.20 253.01,245.40 C252.44,246.80 250.82,247.80 249.40,248.20 C248.45,249.50 247.97,251.20 246.55,252.10 L226.60,252.10 C222.80,252.10 219.76,251.90 219.00,251.00Z" fill="#fff" stroke="#222" stroke-width="0.85" stroke-linejoin="round"/>
<ellipse cx="227.55" cy="252.20" rx="1.23" ry="0.65" fill="#111"/>
<ellipse cx="232.78" cy="252.20" rx="1.23" ry="0.65" fill="#111"/>
<ellipse cx="238.47" cy="252.20" rx="1.23" ry="0.65" fill="#111"/>
<ellipse cx="244.18" cy="252.20" rx="1.23" ry="0.65" fill="#111"/>
<circle cx="223.75" cy="245.00" r="1.25" fill="#fff" stroke="#333" stroke-width="0.55"/>
<circle cx="227.07" cy="241.40" r="1.25" fill="#fff" stroke="#333" stroke-width="0.55"/>
<circle cx="228.50" cy="246.20" r="1.25" fill="#fff" stroke="#333" stroke-width="0.55"/>
<circle cx="231.82" cy="242.80" r="1.25" fill="#fff" stroke="#333" stroke-width="0.55"/>
<circle cx="235.15" cy="240.70" r="1.25" fill="#fff" stroke="#333" stroke-width="0.55"/>
<circle cx="235.15" cy="246.40" r="1.25" fill="#fff" stroke="#333" stroke-width="0.55"/>
<circle cx="238.47" cy="243.00" r="1.25" fill="#fff" stroke="#333" stroke-width="0.55"/>
<circle cx="240.85" cy="247.20" r="1.25" fill="#fff" stroke="#333" stroke-width="0.55"/>
<circle cx="242.75" cy="242.40" r="1.25" fill="#fff" stroke="#333" stroke-width="0.55"/>
<circle cx="231.82" cy="249.20" r="1.2" fill="#fff" stroke="#333" stroke-width="0.55"/>
<circle cx="225.18" cy="248.80" r="1.2" fill="#fff" stroke="#333" stroke-width="0.55"/>
<circle cx="238.00" cy="249.20" r="1.2" fill="#fff" stroke="#333" stroke-width="0.55"/>
<path d="M229.00,225.80 L233.00,223.60 L234.40,228.40 L236.00,227.60 L237.90,237.90 L232.80,231.40 L231.40,232.20Z" fill="#e8141c" stroke="#e8141c" stroke-width="0.4" stroke-linejoin="round"/>
<path d="M220.99,289.80 C217.78,291.50 218.27,295.30 221.96,296.40 C226.32,297.80 235.05,295.00 243.29,292.10" fill="none" stroke="#111" stroke-width="1.0" stroke-linecap="round"/>
<path d="M220.50,289.50 C220.01,285.50 223.41,279.00 229.23,277.20 C234.08,275.70 239.41,277.00 242.81,278.90 C243.78,279.30 244.75,279.20 245.53,278.70 C245.72,276.10 248.44,275.10 249.31,277.30 C249.50,278.10 249.41,278.90 249.02,279.50 C251.06,280.90 253.48,282.70 255.23,283.90 C254.64,285.30 253.00,286.30 251.54,286.70 C250.57,288.00 250.09,289.70 248.63,290.60 L228.26,290.60 C224.38,290.60 221.28,290.40 220.50,289.50Z" fill="#111" stroke="#111" stroke-width="0.85" stroke-linejoin="round"/>
<ellipse cx="229.23" cy="290.70" rx="1.26" ry="0.65" fill="#111"/>
<ellipse cx="234.56" cy="290.70" rx="1.26" ry="0.65" fill="#111"/>
<ellipse cx="240.38" cy="290.70" rx="1.26" ry="0.65" fill="#111"/>
<ellipse cx="246.20" cy="290.70" rx="1.26" ry="0.65" fill="#111"/>
<circle cx="225.35" cy="283.50" r="1.25" fill="none" stroke="#aaa" stroke-width="0.55"/>
<circle cx="228.75" cy="279.90" r="1.25" fill="none" stroke="#aaa" stroke-width="0.55"/>
<circle cx="230.20" cy="284.70" r="1.25" fill="none" stroke="#aaa" stroke-width="0.55"/>
<circle cx="233.59" cy="281.30" r="1.25" fill="none" stroke="#aaa" stroke-width="0.55"/>
<circle cx="236.99" cy="279.20" r="1.25" fill="none" stroke="#aaa" stroke-width="0.55"/>
<circle cx="236.99" cy="284.90" r="1.25" fill="none" stroke="#aaa" stroke-width="0.55"/>
<circle cx="240.38" cy="281.50" r="1.25" fill="none" stroke="#aaa" stroke-width="0.55"/>
<circle cx="242.81" cy="285.70" r="1.25" fill="none" stroke="#aaa" stroke-width="0.55"/>
<circle cx="244.75" cy="280.90" r="1.25" fill="none" stroke="#aaa" stroke-width="0.55"/>
<circle cx="233.59" cy="287.70" r="1.2" fill="none" stroke="#aaa" stroke-width="0.55"/>
<path d="M231.00,264.00 L235.00,261.80 L236.40,266.60 L238.00,265.80 L239.90,276.10 L234.80,269.60 L233.40,270.40Z" fill="#e8141c" stroke="#e8141c" stroke-width="0.4" stroke-linejoin="round"/>
<path d="M324.78,250.80 C321.64,252.50 322.12,256.30 325.73,257.40 C330.00,258.80 338.55,256.00 346.62,253.10" fill="none" stroke="#222" stroke-width="0.85" stroke-linecap="round"/>
<path d="M324.30,250.50 C323.82,246.50 327.15,240.00 332.85,238.20 C337.60,236.70 342.82,238.00 346.15,239.90 C347.10,240.30 348.05,240.20 348.81,239.70 C349.00,237.10 351.66,236.10 352.51,238.30 C352.70,239.10 352.61,239.90 352.23,240.50 C354.23,241.90 356.60,243.70 358.31,244.90 C357.74,246.30 356.12,247.30 354.70,247.70 C353.75,249.00 353.28,250.70 351.85,251.60 L331.90,251.60 C328.10,251.60 325.06,251.40 324.30,250.50Z" fill="#fff" stroke="#222" stroke-width="0.85" stroke-linejoin="round"/>
<ellipse cx="332.85" cy="251.70" rx="1.23" ry="0.65" fill="#111"/>
<ellipse cx="338.07" cy="251.70" rx="1.23" ry="0.65" fill="#111"/>
<ellipse cx="343.78" cy="251.70" rx="1.23" ry="0.65" fill="#111"/>
<ellipse cx="349.48" cy="251.70" rx="1.23" ry="0.65" fill="#111"/>
<circle cx="329.05" cy="244.50" r="1.25" fill="#7a1f2e" stroke="#7a1f2e" stroke-width="0.55"/>
<circle cx="332.38" cy="240.90" r="1.25" fill="#7a1f2e" stroke="#7a1f2e" stroke-width="0.55"/>
<circle cx="333.80" cy="245.70" r="1.25" fill="#fff" stroke="#333" stroke-width="0.55"/>
<circle cx="337.12" cy="242.30" r="1.25" fill="#fff" stroke="#333" stroke-width="0.55"/>
<circle cx="340.45" cy="240.20" r="1.25" fill="#7a1f2e" stroke="#7a1f2e" stroke-width="0.55"/>
<circle cx="340.45" cy="245.90" r="1.25" fill="#fff" stroke="#333" stroke-width="0.55"/>
<circle cx="343.78" cy="242.50" r="1.25" fill="#fff" stroke="#333" stroke-width="0.55"/>
<circle cx="346.15" cy="246.70" r="1.25" fill="#7a1f2e" stroke="#7a1f2e" stroke-width="0.55"/>
<circle cx="348.05" cy="241.90" r="1.25" fill="#7a1f2e" stroke="#7a1f2e" stroke-width="0.55"/>
<circle cx="337.12" cy="248.70" r="1.2" fill="#fff" stroke="#333" stroke-width="0.55"/>
<circle cx="330.48" cy="248.30" r="1.2" fill="#fff" stroke="#333" stroke-width="0.55"/>
<circle cx="335.70" cy="239.30" r="1.1" fill="#7a1f2e" stroke="#7a1f2e" stroke-width="0.55"/>
<path d="M324.48,289.30 C321.34,291.00 321.81,294.80 325.43,295.90 C329.70,297.30 338.25,294.50 346.32,291.60" fill="none" stroke="#111" stroke-width="1.0" stroke-linecap="round"/>
<path d="M324.00,289.00 C323.52,285.00 326.85,278.50 332.55,276.70 C337.30,275.20 342.52,276.50 345.85,278.40 C346.80,278.80 347.75,278.70 348.51,278.20 C348.70,275.60 351.36,274.60 352.21,276.80 C352.40,277.60 352.31,278.40 351.93,279.00 C353.93,280.40 356.30,282.20 358.01,283.40 C357.44,284.80 355.82,285.80 354.40,286.20 C353.45,287.50 352.98,289.20 351.55,290.10 L331.60,290.10 C327.80,290.10 324.76,289.90 324.00,289.00Z" fill="#111" stroke="#111" stroke-width="0.85" stroke-linejoin="round"/>
<ellipse cx="332.55" cy="290.20" rx="1.23" ry="0.65" fill="#111"/>
<ellipse cx="337.77" cy="290.20" rx="1.23" ry="0.65" fill="#111"/>
<ellipse cx="343.48" cy="290.20" rx="1.23" ry="0.65" fill="#111"/>
<ellipse cx="349.18" cy="290.20" rx="1.23" ry="0.65" fill="#111"/>
<circle cx="328.75" cy="283.00" r="1.3" fill="none" stroke="#ddd" stroke-width="0.55"/>
<circle cx="332.07" cy="279.40" r="1.3" fill="none" stroke="#e8a0a8" stroke-width="0.55"/>
<circle cx="333.50" cy="284.20" r="1.3" fill="none" stroke="#ccc" stroke-width="0.55"/>
<circle cx="336.82" cy="280.80" r="1.3" fill="none" stroke="#ddd" stroke-width="0.55"/>
<circle cx="340.15" cy="278.70" r="1.3" fill="none" stroke="#e8a0a8" stroke-width="0.55"/>
<circle cx="340.15" cy="284.40" r="1.3" fill="none" stroke="#ccc" stroke-width="0.55"/>
<circle cx="343.48" cy="281.00" r="1.3" fill="none" stroke="#ddd" stroke-width="0.55"/>
<circle cx="345.85" cy="285.20" r="1.3" fill="none" stroke="#e8a0a8" stroke-width="0.55"/>
<circle cx="347.75" cy="280.40" r="1.3" fill="none" stroke="#e8a0a8" stroke-width="0.55"/>
<line x1="257.00" y1="245.80" x2="315.50" y2="245.80" stroke="#141414" stroke-width="0.9"/>
<path d="M318.2,245.8 L314.2,243.9 L314.2,247.7Z" fill="#141414"/>
<line x1="258.50" y1="284.20" x2="316.50" y2="284.20" stroke="#141414" stroke-width="0.9"/>
<path d="M319.2,284.2 L315.2,282.3 L315.2,286.1Z" fill="#141414"/>
<text x="286.70" y="231.40" font-size="4.8" text-anchor="middle" fill="#dc4856" style="stroke:#dc4856">50% B6.CD45.1/2</text>
<text x="287.30" y="236.80" font-size="4.8" text-anchor="middle" fill="#141414">+</text>
<text x="272.7" y="242.6" font-size="4.8" fill="#141414">50% <tspan font-style="italic">Casp8</tspan><tspan font-size="3.2" dy="-1.8" font-style="italic">fl/fl</tspan></text>
<text x="286.50" y="269.50" font-size="4.8" text-anchor="middle" fill="#dc4856" style="stroke:#dc4856">50% B6.CD45.1/2</text>
<text x="286.10" y="275.60" font-size="4.8" text-anchor="middle" fill="#141414">+</text>
<text x="263.7" y="280.5" font-size="4.8" fill="#141414">50% <tspan font-style="italic">Cre</tspan><tspan font-size="3.2" dy="-1.8">CD11c</tspan><tspan dy="1.8" font-style="italic">Casp8</tspan><tspan font-size="3.2" dy="-1.8" font-style="italic">fl/fl</tspan></text>
<text x="360.5" y="253.6" font-size="5.4" fill="#141414">WT+ <tspan font-style="italic">Casp8</tspan><tspan font-size="3.6" dy="-2" font-style="italic">fl/fl</tspan></text>
<text x="361.0" y="293.1" font-size="5.4" fill="#141414">WT+ <tspan font-style="italic">Cre</tspan><tspan font-size="3.6" dy="-2">CD11c</tspan><tspan dy="2" font-style="italic">Casp8</tspan><tspan font-size="3.6" dy="-2" font-style="italic">fl/fl</tspan></text>
<rect x="297.40" y="321.50" width="5.20" height="5.60" fill="#fff" stroke="#141414" stroke-width="1.1"/>
<text x="307.3" y="328.0" font-size="8.3" fill="#141414">WT+<tspan font-style="italic">Casp8</tspan><tspan font-size="5.1" dy="-3.6" font-style="italic">fl/fl</tspan></text>
<rect x="366.50" y="320.90" width="6.60" height="6.60" fill="#141414"/>
<text x="377.7" y="328.0" font-size="8.3" fill="#141414">WT+<tspan font-style="italic">Cre</tspan><tspan font-size="5.9" dy="-3.8">CD11c</tspan><tspan dy="3.8" font-style="italic">Casp8</tspan><tspan font-size="5.1" dy="-3.6" font-style="italic">fl/fl</tspan></text>
<text x="25.20" y="355.20" font-size="12.6" text-anchor="start" font-weight="normal" fill="#141414" style="stroke-width:0.45px">K</text>
<ellipse cx="84.00" cy="378.80" rx="27" ry="12.5" fill="#000" opacity="0.08" filter="url(#bl2)"/>
<g filter="url(#sp)"><ellipse cx="81.00" cy="378.80" rx="27" ry="14" fill="#000" opacity="0.75"/><ellipse cx="93.00" cy="379.30" rx="14" ry="4.5" fill="#000" opacity="0.9"/></g>
<ellipse cx="93.00" cy="379.30" rx="14" ry="4.5" fill="#000" opacity="0.12" filter="url(#bl1)"/>
<ellipse cx="74.00" cy="379.80" rx="11" ry="11" fill="#000" opacity="0.12" filter="url(#bl1)"/>
<path d="M62.00,379.80 C61.83,377.63 63.50,375.47 65.00,373.80 C66.50,372.13 69.58,371.47 71.00,369.80 C72.42,368.13 72.58,364.85 73.50,363.80 C74.42,362.75 75.72,362.50 76.50,363.50 C77.28,364.50 77.62,368.00 78.20,369.80 C78.78,371.60 78.87,373.30 80.00,374.30 C81.13,375.30 83.00,375.47 85.00,375.80 C87.00,376.13 90.17,375.88 92.00,376.30 C93.83,376.72 95.83,377.63 96.00,378.30 C96.17,378.97 94.83,379.80 93.00,380.30 C91.17,380.80 87.00,380.72 85.00,381.30 C83.00,381.88 82.00,382.72 81.00,383.80 C80.00,384.88 80.33,386.88 79.00,387.80 C77.67,388.72 75.17,389.47 73.00,389.30 C70.83,389.13 67.83,388.38 66.00,386.80 C64.17,385.22 62.17,381.97 62.00,379.80Z" fill="#000" fill-opacity="0.03" stroke="#333" stroke-width="0.4"/>
<path d="M66.00,380.80 C66.00,379.13 66.92,376.63 68.00,375.30 C69.08,373.97 71.42,374.05 72.50,372.80 C73.58,371.55 73.87,368.63 74.50,367.80 C75.13,366.97 75.80,366.88 76.30,367.80 C76.80,368.72 76.88,371.88 77.50,373.30 C78.12,374.72 78.58,375.60 80.00,376.30 C81.42,377.00 84.33,377.12 86.00,377.50 C87.67,377.88 90.17,378.22 90.00,378.60 C89.83,378.98 86.67,379.27 85.00,379.80 C83.33,380.33 81.17,380.72 80.00,381.80 C78.83,382.88 79.17,385.30 78.00,386.30 C76.83,387.30 74.67,387.97 73.00,387.80 C71.33,387.63 69.17,386.47 68.00,385.30 C66.83,384.13 66.00,382.47 66.00,380.80Z" fill="#000" fill-opacity="0.04" stroke="#333" stroke-width="0.4"/>
<path d="M69.00,381.80 C69.00,380.55 69.17,377.97 70.00,376.80 C70.83,375.63 73.08,375.63 74.00,374.80 C74.92,373.97 75.08,371.80 75.50,371.80 C75.92,371.80 75.92,373.80 76.50,374.80 C77.08,375.80 77.92,377.13 79.00,377.80 C80.08,378.47 83.00,378.30 83.00,378.80 C83.00,379.30 79.92,379.72 79.00,380.80 C78.08,381.88 78.50,384.38 77.50,385.30 C76.50,386.22 74.25,386.47 73.00,386.30 C71.75,386.13 70.67,385.05 70.00,384.30 C69.33,383.55 69.00,383.05 69.00,381.80Z" fill="#000" fill-opacity="0.07" stroke="#333" stroke-width="0.4"/>
<ellipse cx="75.00" cy="381.80" rx="5.6" ry="6.4" fill="#000" opacity="0.4" filter="url(#bl05)" transform="rotate(20 75.00 381.80)"/>
<ellipse cx="75.00" cy="381.80" rx="4.2" ry="5.2" fill="#000" opacity="0.45" stroke="#222" stroke-width="0.3" transform="rotate(22 75.00 381.80)"/>
<ellipse cx="75.30" cy="382.10" rx="2.6" ry="4.2" fill="#0a0a0a" transform="rotate(28 75.00 381.80)"/>
<path d="M74.70,384.00 L76.10,379.40" stroke="#fff" stroke-width="0.7" opacity="0.8"/>
<rect x="50.60" y="357.30" width="59.00" height="59.30" fill="none" stroke="#6a6a6a" stroke-width="0.7"/>
<path d="M109.60,357.60 L81.20,357.60 L78.60,390.3 L109.60,390.3" fill="none" stroke="#555" stroke-width="0.65"/>
<text x="107.20" y="364.00" font-size="5.0" text-anchor="end" fill="#141414">5.10</text>
<text x="78.5" y="354.6" font-size="6.6" text-anchor="middle" font-style="italic" fill="#141414">Casp8<tspan font-size="4" dy="-2.4">fl/fl</tspan></text>
<text x="48.60" y="364.20" font-size="3.6" text-anchor="end" fill="#141414" style="stroke-width:0.12px">10<tspan font-size="2.6" dy="-1.3">5</tspan></text>
<text x="48.60" y="377.40" font-size="3.6" text-anchor="end" fill="#141414" style="stroke-width:0.12px">10<tspan font-size="2.6" dy="-1.3">4</tspan></text>
<text x="48.60" y="391.40" font-size="3.6" text-anchor="end" fill="#141414" style="stroke-width:0.12px">10<tspan font-size="2.6" dy="-1.3">3</tspan></text>
<text x="48.60" y="404.60" font-size="3.6" text-anchor="end" fill="#141414" style="stroke-width:0.12px">10<tspan font-size="2.6" dy="-1.3">2</tspan></text>
<text x="48.40" y="409.20" font-size="3.6" text-anchor="end" fill="#141414">0</text>
<text x="59.90" y="421.6" font-size="3.6" text-anchor="middle" fill="#141414" style="stroke-width:0.12px">0 10<tspan font-size="2.6" dy="-1.3">2</tspan></text>
<text x="76.60" y="421.6" font-size="3.6" text-anchor="middle" fill="#141414" style="stroke-width:0.12px">10<tspan font-size="2.6" dy="-1.3">3</tspan></text>
<text x="90.80" y="421.6" font-size="3.6" text-anchor="middle" fill="#141414" style="stroke-width:0.12px">10<tspan font-size="2.6" dy="-1.3">4</tspan></text>
<text x="104.10" y="421.6" font-size="3.6" text-anchor="middle" fill="#141414" style="stroke-width:0.12px">10<tspan font-size="2.6" dy="-1.3">5</tspan></text>
<ellipse cx="151.00" cy="379.40" rx="27" ry="12.5" fill="#000" opacity="0.08" filter="url(#bl2)"/>
<g filter="url(#sp)"><ellipse cx="148.00" cy="379.40" rx="27" ry="14" fill="#000" opacity="0.75"/><ellipse cx="160.00" cy="379.90" rx="14" ry="4.5" fill="#000" opacity="0.9"/></g>
<ellipse cx="160.00" cy="379.90" rx="14" ry="4.5" fill="#000" opacity="0.12" filter="url(#bl1)"/>
<ellipse cx="141.00" cy="380.40" rx="11" ry="11" fill="#000" opacity="0.12" filter="url(#bl1)"/>
<path d="M129.00,380.40 C128.83,378.23 130.50,376.07 132.00,374.40 C133.50,372.73 136.58,372.07 138.00,370.40 C139.42,368.73 139.58,365.45 140.50,364.40 C141.42,363.35 142.72,363.10 143.50,364.10 C144.28,365.10 144.62,368.60 145.20,370.40 C145.78,372.20 145.87,373.90 147.00,374.90 C148.13,375.90 150.00,376.07 152.00,376.40 C154.00,376.73 157.17,376.48 159.00,376.90 C160.83,377.32 162.83,378.23 163.00,378.90 C163.17,379.57 161.83,380.40 160.00,380.90 C158.17,381.40 154.00,381.32 152.00,381.90 C150.00,382.48 149.00,383.32 148.00,384.40 C147.00,385.48 147.33,387.48 146.00,388.40 C144.67,389.32 142.17,390.07 140.00,389.90 C137.83,389.73 134.83,388.98 133.00,387.40 C131.17,385.82 129.17,382.57 129.00,380.40Z" fill="#000" fill-opacity="0.03" stroke="#333" stroke-width="0.4"/>
<path d="M133.00,381.40 C133.00,379.73 133.92,377.23 135.00,375.90 C136.08,374.57 138.42,374.65 139.50,373.40 C140.58,372.15 140.87,369.23 141.50,368.40 C142.13,367.57 142.80,367.48 143.30,368.40 C143.80,369.32 143.88,372.48 144.50,373.90 C145.12,375.32 145.58,376.20 147.00,376.90 C148.42,377.60 151.33,377.72 153.00,378.10 C154.67,378.48 157.17,378.82 157.00,379.20 C156.83,379.58 153.67,379.87 152.00,380.40 C150.33,380.93 148.17,381.32 147.00,382.40 C145.83,383.48 146.17,385.90 145.00,386.90 C143.83,387.90 141.67,388.57 140.00,388.40 C138.33,388.23 136.17,387.07 135.00,385.90 C133.83,384.73 133.00,383.07 133.00,381.40Z" fill="#000" fill-opacity="0.04" stroke="#333" stroke-width="0.4"/>
<path d="M136.00,382.40 C136.00,381.15 136.17,378.57 137.00,377.40 C137.83,376.23 140.08,376.23 141.00,375.40 C141.92,374.57 142.08,372.40 142.50,372.40 C142.92,372.40 142.92,374.40 143.50,375.40 C144.08,376.40 144.92,377.73 146.00,378.40 C147.08,379.07 150.00,378.90 150.00,379.40 C150.00,379.90 146.92,380.32 146.00,381.40 C145.08,382.48 145.50,384.98 144.50,385.90 C143.50,386.82 141.25,387.07 140.00,386.90 C138.75,386.73 137.67,385.65 137.00,384.90 C136.33,384.15 136.00,383.65 136.00,382.40Z" fill="#000" fill-opacity="0.07" stroke="#333" stroke-width="0.4"/>
<ellipse cx="142.00" cy="382.40" rx="5.6" ry="6.4" fill="#000" opacity="0.4" filter="url(#bl05)" transform="rotate(20 142.00 382.40)"/>
<ellipse cx="142.00" cy="382.40" rx="4.2" ry="5.2" fill="#000" opacity="0.45" stroke="#222" stroke-width="0.3" transform="rotate(22 142.00 382.40)"/>
<ellipse cx="142.30" cy="382.70" rx="2.6" ry="4.2" fill="#0a0a0a" transform="rotate(28 142.00 382.40)"/>
<path d="M141.70,384.60 L143.10,380.00" stroke="#fff" stroke-width="0.7" opacity="0.8"/>
<rect x="117.60" y="357.30" width="59.00" height="59.30" fill="none" stroke="#6a6a6a" stroke-width="0.7"/>
<path d="M176.60,357.60 L148.00,357.60 L146.20,390.3 L176.60,390.3" fill="none" stroke="#555" stroke-width="0.65"/>
<text x="174.20" y="364.00" font-size="5.0" text-anchor="end" fill="#141414">5.24</text>
<text x="146.4" y="354.4" font-size="6.6" text-anchor="middle" fill="#141414"><tspan font-style="italic">Cre</tspan><tspan font-size="4" dy="-2.4">CD11c</tspan><tspan dy="2.4" font-style="italic">Casp8</tspan><tspan font-size="4" dy="-2.4" font-style="italic">fl/fl</tspan></text>
<text x="115.60" y="364.20" font-size="3.6" text-anchor="end" fill="#141414" style="stroke-width:0.12px">10<tspan font-size="2.6" dy="-1.3">5</tspan></text>
<text x="115.60" y="377.40" font-size="3.6" text-anchor="end" fill="#141414" style="stroke-width:0.12px">10<tspan font-size="2.6" dy="-1.3">4</tspan></text>
<text x="115.60" y="391.40" font-size="3.6" text-anchor="end" fill="#141414" style="stroke-width:0.12px">10<tspan font-size="2.6" dy="-1.3">3</tspan></text>
<text x="115.60" y="404.60" font-size="3.6" text-anchor="end" fill="#141414" style="stroke-width:0.12px">10<tspan font-size="2.6" dy="-1.3">2</tspan></text>
<text x="115.40" y="409.20" font-size="3.6" text-anchor="end" fill="#141414">0</text>
<text x="126.90" y="421.6" font-size="3.6" text-anchor="middle" fill="#141414" style="stroke-width:0.12px">0 10<tspan font-size="2.6" dy="-1.3">2</tspan></text>
<text x="143.60" y="421.6" font-size="3.6" text-anchor="middle" fill="#141414" style="stroke-width:0.12px">10<tspan font-size="2.6" dy="-1.3">3</tspan></text>
<text x="157.80" y="421.6" font-size="3.6" text-anchor="middle" fill="#141414" style="stroke-width:0.12px">10<tspan font-size="2.6" dy="-1.3">4</tspan></text>
<text x="171.10" y="421.6" font-size="3.6" text-anchor="middle" fill="#141414" style="stroke-width:0.12px">10<tspan font-size="2.6" dy="-1.3">5</tspan></text>
<ellipse cx="218.00" cy="380.00" rx="27" ry="12.5" fill="#000" opacity="0.08" filter="url(#bl2)"/>
<g filter="url(#sp)"><ellipse cx="215.00" cy="380.00" rx="27" ry="14" fill="#000" opacity="0.75"/><ellipse cx="227.00" cy="380.50" rx="14" ry="4.5" fill="#000" opacity="0.9"/></g>
<ellipse cx="227.00" cy="380.50" rx="14" ry="4.5" fill="#000" opacity="0.12" filter="url(#bl1)"/>
<ellipse cx="208.00" cy="381.00" rx="11" ry="11" fill="#000" opacity="0.12" filter="url(#bl1)"/>
<path d="M196.00,381.00 C195.83,378.83 197.50,376.67 199.00,375.00 C200.50,373.33 203.58,372.67 205.00,371.00 C206.42,369.33 206.58,366.05 207.50,365.00 C208.42,363.95 209.72,363.70 210.50,364.70 C211.28,365.70 211.62,369.20 212.20,371.00 C212.78,372.80 212.87,374.50 214.00,375.50 C215.13,376.50 217.00,376.67 219.00,377.00 C221.00,377.33 224.17,377.08 226.00,377.50 C227.83,377.92 229.83,378.83 230.00,379.50 C230.17,380.17 228.83,381.00 227.00,381.50 C225.17,382.00 221.00,381.92 219.00,382.50 C217.00,383.08 216.00,383.92 215.00,385.00 C214.00,386.08 214.33,388.08 213.00,389.00 C211.67,389.92 209.17,390.67 207.00,390.50 C204.83,390.33 201.83,389.58 200.00,388.00 C198.17,386.42 196.17,383.17 196.00,381.00Z" fill="#000" fill-opacity="0.03" stroke="#333" stroke-width="0.4"/>
<path d="M200.00,382.00 C200.00,380.33 200.92,377.83 202.00,376.50 C203.08,375.17 205.42,375.25 206.50,374.00 C207.58,372.75 207.87,369.83 208.50,369.00 C209.13,368.17 209.80,368.08 210.30,369.00 C210.80,369.92 210.88,373.08 211.50,374.50 C212.12,375.92 212.58,376.80 214.00,377.50 C215.42,378.20 218.33,378.32 220.00,378.70 C221.67,379.08 224.17,379.42 224.00,379.80 C223.83,380.18 220.67,380.47 219.00,381.00 C217.33,381.53 215.17,381.92 214.00,383.00 C212.83,384.08 213.17,386.50 212.00,387.50 C210.83,388.50 208.67,389.17 207.00,389.00 C205.33,388.83 203.17,387.67 202.00,386.50 C200.83,385.33 200.00,383.67 200.00,382.00Z" fill="#000" fill-opacity="0.04" stroke="#333" stroke-width="0.4"/>
<path d="M203.00,383.00 C203.00,381.75 203.17,379.17 204.00,378.00 C204.83,376.83 207.08,376.83 208.00,376.00 C208.92,375.17 209.08,373.00 209.50,373.00 C209.92,373.00 209.92,375.00 210.50,376.00 C211.08,377.00 211.92,378.33 213.00,379.00 C214.08,379.67 217.00,379.50 217.00,380.00 C217.00,380.50 213.92,380.92 213.00,382.00 C212.08,383.08 212.50,385.58 211.50,386.50 C210.50,387.42 208.25,387.67 207.00,387.50 C205.75,387.33 204.67,386.25 204.00,385.50 C203.33,384.75 203.00,384.25 203.00,383.00Z" fill="#000" fill-opacity="0.07" stroke="#333" stroke-width="0.4"/>
<ellipse cx="209.00" cy="383.00" rx="5.6" ry="6.4" fill="#000" opacity="0.4" filter="url(#bl05)" transform="rotate(20 209.00 383.00)"/>
<ellipse cx="209.00" cy="383.00" rx="4.2" ry="5.2" fill="#000" opacity="0.45" stroke="#222" stroke-width="0.3" transform="rotate(22 209.00 383.00)"/>
<ellipse cx="209.30" cy="383.30" rx="2.6" ry="4.2" fill="#0a0a0a" transform="rotate(28 209.00 383.00)"/>
<path d="M208.70,385.20 L210.10,380.60" stroke="#fff" stroke-width="0.7" opacity="0.8"/>
<rect x="184.40" y="357.30" width="59.00" height="59.30" fill="none" stroke="#6a6a6a" stroke-width="0.7"/>
<path d="M243.40,357.60 L215.20,357.60 L213.20,390.3 L243.40,390.3" fill="none" stroke="#555" stroke-width="0.65"/>
<text x="241.00" y="364.00" font-size="5.0" text-anchor="end" fill="#141414">5.22</text>
<text x="214" y="354.9" font-size="6.6" text-anchor="middle" fill="#141414">B6.<tspan font-style="italic">CD45.1/2</tspan></text>
<text x="182.40" y="364.20" font-size="3.6" text-anchor="end" fill="#141414" style="stroke-width:0.12px">10<tspan font-size="2.6" dy="-1.3">5</tspan></text>
<text x="182.40" y="377.40" font-size="3.6" text-anchor="end" fill="#141414" style="stroke-width:0.12px">10<tspan font-size="2.6" dy="-1.3">4</tspan></text>
<text x="182.40" y="391.40" font-size="3.6" text-anchor="end" fill="#141414" style="stroke-width:0.12px">10<tspan font-size="2.6" dy="-1.3">3</tspan></text>
<text x="182.40" y="404.60" font-size="3.6" text-anchor="end" fill="#141414" style="stroke-width:0.12px">10<tspan font-size="2.6" dy="-1.3">2</tspan></text>
<text x="182.20" y="409.20" font-size="3.6" text-anchor="end" fill="#141414">0</text>
<text x="193.70" y="421.6" font-size="3.6" text-anchor="middle" fill="#141414" style="stroke-width:0.12px">0 10<tspan font-size="2.6" dy="-1.3">2</tspan></text>
<text x="210.40" y="421.6" font-size="3.6" text-anchor="middle" fill="#141414" style="stroke-width:0.12px">10<tspan font-size="2.6" dy="-1.3">3</tspan></text>
<text x="224.60" y="421.6" font-size="3.6" text-anchor="middle" fill="#141414" style="stroke-width:0.12px">10<tspan font-size="2.6" dy="-1.3">4</tspan></text>
<text x="237.90" y="421.6" font-size="3.6" text-anchor="middle" fill="#141414" style="stroke-width:0.12px">10<tspan font-size="2.6" dy="-1.3">5</tspan></text>
<line x1="36.70" y1="388.00" x2="36.70" y2="428.20" stroke="#141414" stroke-width="1.0"/>
<path d="M36.7,385.6 L34.8,389.6 L38.6,389.6Z" fill="#141414"/>
<line x1="36.20" y1="427.80" x2="211.50" y2="427.80" stroke="#141414" stroke-width="1.0"/>
<path d="M214.2,427.8 L210.2,425.9 L210.2,429.7Z" fill="#141414"/>
<text x="39.80" y="371.20" font-size="5.2" text-anchor="middle" fill="#141414" transform="rotate(-90 39.80 371.20)">c-kit</text>
<text x="221.80" y="429.20" font-size="5.2" text-anchor="start" fill="#141414">Sca-1</text>
<text x="266.10" y="355.20" font-size="12.6" text-anchor="start" font-weight="normal" fill="#141414" style="stroke-width:0.45px">L</text>
<line x1="303.50" y1="390.23" x2="303.50" y2="383.50" stroke="#141414" stroke-width="0.9"/>
<line x1="301.60" y1="383.50" x2="305.40" y2="383.50" stroke="#141414" stroke-width="0.9"/>
<rect x="300.50" y="390.50" width="5.00" height="24.50" fill="#fff" stroke="#111" stroke-width="1.0"/>
<line x1="309.50" y1="396.23" x2="309.50" y2="395.50" stroke="#141414" stroke-width="0.9"/>
<line x1="307.60" y1="395.50" x2="311.40" y2="395.50" stroke="#141414" stroke-width="0.9"/>
<rect x="306.00" y="396.00" width="6.00" height="19.00" fill="#000"/>
<line x1="320.50" y1="382.60" x2="320.50" y2="375.50" stroke="#141414" stroke-width="0.9"/>
<line x1="318.60" y1="375.50" x2="322.40" y2="375.50" stroke="#141414" stroke-width="0.9"/>
<rect x="317.50" y="383.50" width="6.00" height="31.50" fill="#fff" stroke="#111" stroke-width="1.0"/>
<line x1="326.50" y1="383.42" x2="326.50" y2="375.50" stroke="#141414" stroke-width="0.9"/>
<line x1="324.60" y1="375.50" x2="328.40" y2="375.50" stroke="#141414" stroke-width="0.9"/>
<rect x="324.00" y="383.00" width="6.00" height="32.00" fill="#000"/>
<line x1="337.50" y1="408.76" x2="337.50" y2="406.50" stroke="#141414" stroke-width="0.9"/>
<line x1="335.60" y1="406.50" x2="339.40" y2="406.50" stroke="#141414" stroke-width="0.9"/>
<rect x="335.50" y="409.50" width="4.00" height="5.50" fill="#fff" stroke="#111" stroke-width="1.0"/>
<line x1="343.50" y1="409.31" x2="343.50" y2="409.50" stroke="#141414" stroke-width="0.9"/>
<line x1="341.60" y1="409.50" x2="345.40" y2="409.50" stroke="#141414" stroke-width="0.9"/>
<rect x="340.00" y="409.00" width="7.00" height="6.00" fill="#000"/>
<line x1="355.50" y1="407.94" x2="355.50" y2="407.50" stroke="#141414" stroke-width="0.9"/>
<line x1="353.60" y1="407.50" x2="357.40" y2="407.50" stroke="#141414" stroke-width="0.9"/>
<rect x="352.50" y="408.50" width="5.00" height="6.50" fill="#fff" stroke="#111" stroke-width="1.0"/>
<line x1="361.50" y1="409.03" x2="361.50" y2="407.50" stroke="#141414" stroke-width="0.9"/>
<line x1="359.60" y1="407.50" x2="363.40" y2="407.50" stroke="#141414" stroke-width="0.9"/>
<rect x="358.00" y="409.00" width="6.00" height="6.00" fill="#000"/>
<line x1="297.50" y1="360.50" x2="297.50" y2="416.00" stroke="#141414" stroke-width="1.0"/>
<line x1="297.00" y1="415.50" x2="365.40" y2="415.50" stroke="#141414" stroke-width="1.0"/>
<line x1="295.70" y1="415.50" x2="297.50" y2="415.50" stroke="#141414" stroke-width="0.9"/>
<text x="295.30" y="416.85" font-size="4.3" text-anchor="end" fill="#141414">0.0</text>
<line x1="295.70" y1="401.50" x2="297.50" y2="401.50" stroke="#141414" stroke-width="0.9"/>
<text x="295.30" y="403.22" font-size="4.3" text-anchor="end" fill="#141414">0.5</text>
<line x1="295.70" y1="388.50" x2="297.50" y2="388.50" stroke="#141414" stroke-width="0.9"/>
<text x="295.30" y="389.60" font-size="4.3" text-anchor="end" fill="#141414">1.0</text>
<line x1="295.70" y1="374.50" x2="297.50" y2="374.50" stroke="#141414" stroke-width="0.9"/>
<text x="295.30" y="375.97" font-size="4.3" text-anchor="end" fill="#141414">1.5</text>
<line x1="295.70" y1="360.50" x2="297.50" y2="360.50" stroke="#141414" stroke-width="0.9"/>
<text x="295.30" y="362.35" font-size="4.3" text-anchor="end" fill="#141414">2.0</text>
<text x="305.30" y="421.40" font-size="5.2" text-anchor="middle" fill="#141414">45.1/2</text>
<text x="323.80" y="421.40" font-size="5.2" text-anchor="middle" fill="#141414">45.2</text>
<text x="340.90" y="421.40" font-size="5.2" text-anchor="middle" fill="#141414">45.1/2</text>
<text x="357.80" y="421.40" font-size="5.2" text-anchor="middle" fill="#141414">45.2</text>
<line x1="300.50" y1="423.60" x2="329.80" y2="423.60" stroke="#141414" stroke-width="0.8"/>
<line x1="335.20" y1="423.60" x2="363.00" y2="423.60" stroke="#141414" stroke-width="0.8"/>
<text x="314.5" y="430.2" font-size="4.5" text-anchor="middle" fill="#141414">CD11c<tspan font-size="2.9" dy="-1.6">+</tspan><tspan dy="1.6">CD8</tspan><tspan font-size="2.9" dy="-1.6">-</tspan></text>
<text x="349.5" y="430.2" font-size="4.5" text-anchor="middle" fill="#141414">CD11c<tspan font-size="2.9" dy="-1.6">+</tspan><tspan dy="1.6">CD8</tspan><tspan font-size="2.9" dy="-1.6">+</tspan></text>
<text font-size="5.6" text-anchor="middle" fill="#141414" transform="rotate(-90 279.2 387)"><tspan x="279.2" y="387">no. of</tspan><tspan x="279.2" y="393.8">splenocytes [x10<tspan font-size="3.8" dy="-2.2">6</tspan><tspan dy="2.2">]</tspan></tspan></text>
<text x="370.30" y="355.30" font-size="12.6" text-anchor="start" font-weight="normal" fill="#141414" style="stroke-width:0.45px">M</text>
<line x1="412.50" y1="389.28" x2="412.50" y2="388.50" stroke="#141414" stroke-width="0.9"/>
<line x1="410.60" y1="388.50" x2="414.40" y2="388.50" stroke="#141414" stroke-width="0.9"/>
<rect x="408.50" y="389.50" width="8.00" height="25.50" fill="#fff" stroke="#111" stroke-width="1.0"/>
<line x1="421.50" y1="372.81" x2="421.50" y2="364.50" stroke="#141414" stroke-width="0.9"/>
<line x1="419.60" y1="364.50" x2="423.40" y2="364.50" stroke="#141414" stroke-width="0.9"/>
<rect x="417.00" y="373.00" width="10.00" height="42.00" fill="#000"/>
<line x1="403.50" y1="359.50" x2="403.50" y2="416.00" stroke="#141414" stroke-width="1.0"/>
<line x1="403.00" y1="415.50" x2="427.90" y2="415.50" stroke="#141414" stroke-width="1.0"/>
<line x1="401.70" y1="414.50" x2="403.50" y2="414.50" stroke="#141414" stroke-width="0.9"/>
<text x="401.30" y="416.59" font-size="4.7" text-anchor="end" fill="#141414">0</text>
<line x1="401.70" y1="396.50" x2="403.50" y2="396.50" stroke="#141414" stroke-width="0.9"/>
<text x="401.30" y="398.29" font-size="4.7" text-anchor="end" fill="#141414">50</text>
<line x1="401.70" y1="378.50" x2="403.50" y2="378.50" stroke="#141414" stroke-width="0.9"/>
<text x="401.30" y="379.99" font-size="4.7" text-anchor="end" fill="#141414">100</text>
<line x1="401.70" y1="360.50" x2="403.50" y2="360.50" stroke="#141414" stroke-width="0.9"/>
<text x="401.30" y="361.69" font-size="4.7" text-anchor="end" fill="#141414">150</text>
<text x="418.70" y="366.41" font-size="7.3" text-anchor="middle" fill="#141414">*</text>
<text x="389.30" y="386.80" font-size="6.0" text-anchor="middle" fill="#141414" transform="rotate(-90 389.30 386.80)">spleen weight (mg)</text>
<text x="437.60" y="355.60" font-size="12.6" text-anchor="start" font-weight="normal" fill="#141414" style="stroke-width:0.45px">N</text>
<line x1="474.50" y1="387.10" x2="474.50" y2="383.50" stroke="#141414" stroke-width="0.9"/>
<line x1="472.60" y1="383.50" x2="476.40" y2="383.50" stroke="#141414" stroke-width="0.9"/>
<rect x="470.50" y="387.50" width="8.00" height="27.50" fill="#fff" stroke="#111" stroke-width="1.0"/>
<line x1="483.50" y1="376.04" x2="483.50" y2="370.50" stroke="#141414" stroke-width="0.9"/>
<line x1="481.60" y1="370.50" x2="485.40" y2="370.50" stroke="#141414" stroke-width="0.9"/>
<rect x="479.00" y="376.00" width="9.00" height="39.00" fill="#000"/>
<line x1="465.50" y1="359.50" x2="465.50" y2="416.00" stroke="#141414" stroke-width="1.0"/>
<line x1="465.00" y1="415.50" x2="493.00" y2="415.50" stroke="#141414" stroke-width="1.0"/>
<line x1="463.70" y1="415.50" x2="465.50" y2="415.50" stroke="#141414" stroke-width="0.9"/>
<text x="463.30" y="416.99" font-size="4.7" text-anchor="end" fill="#141414">0</text>
<line x1="463.70" y1="401.50" x2="465.50" y2="401.50" stroke="#141414" stroke-width="0.9"/>
<text x="463.30" y="403.17" font-size="4.7" text-anchor="end" fill="#141414">5</text>
<line x1="463.70" y1="387.50" x2="465.50" y2="387.50" stroke="#141414" stroke-width="0.9"/>
<text x="463.30" y="389.34" font-size="4.7" text-anchor="end" fill="#141414">10</text>
<line x1="463.70" y1="373.50" x2="465.50" y2="373.50" stroke="#141414" stroke-width="0.9"/>
<text x="463.30" y="375.52" font-size="4.7" text-anchor="end" fill="#141414">15</text>
<line x1="463.70" y1="360.50" x2="465.50" y2="360.50" stroke="#141414" stroke-width="0.9"/>
<text x="463.30" y="361.69" font-size="4.7" text-anchor="end" fill="#141414">20</text>
<text x="480.30" y="369.61" font-size="7.3" text-anchor="middle" fill="#141414">*</text>
<text x="455.00" y="387.50" font-size="5.9" text-anchor="middle" fill="#141414" transform="rotate(-90 455.00 387.50)">LN weight (mg)</text>
</svg>
</body></html>
